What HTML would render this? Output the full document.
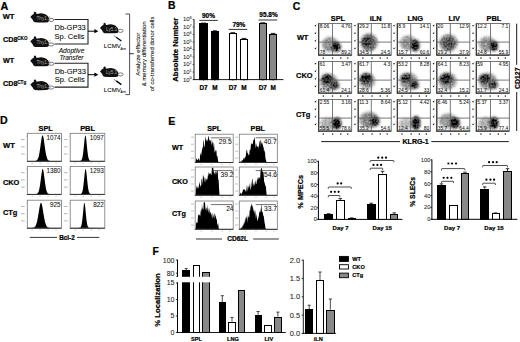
<!DOCTYPE html>
<html><head><meta charset="utf-8"><style>
html,body{margin:0;padding:0;background:#fff;}
svg{display:block;}
text{font-family:"Liberation Sans",sans-serif;}
</style></head><body>
<svg width="520" height="342" viewBox="0 0 520 342">
<defs><filter id="bl" x="-20%" y="-20%" width="140%" height="140%"><feGaussianBlur in="SourceGraphic" stdDeviation="1.4" result="b"/><feTurbulence type="fractalNoise" baseFrequency="0.55" numOctaves="1" seed="5" result="n"/><feColorMatrix in="n" type="matrix" values="0 0 0 0 0 0 0 0 0 0 0 0 0 0 0 1.3 0 0 0 -0.2" result="na"/><feComposite in="b" in2="na" operator="arithmetic" k1="0.9" k2="0.6" k3="0" k4="0" result="c"/><feGaussianBlur in="c" stdDeviation="0.35"/></filter></defs>
<rect width="520" height="342" fill="#fff"/>
<text x="0.5" y="9.5" font-size="10.8" font-weight="bold" font-style="normal" text-anchor="start" fill="#000" stroke="#000" stroke-width="0.22" >A</text>
<path d="M30.3,17 C31.4,15.57 32.83,14.14 34.26,13.7 C35.8,13.26 37.12,14.14 38,13.81 C40.75,12.71 45.15,13.26 47.68,16.12 C49.44,18.1 49.66,20.96 48.12,22.17 C44.6,22.61 39.1,22.5 34.92,22.28 C33.6,21.95 33.05,20.85 32.72,19.86 C31.95,18.76 30.96,17.77 30.3,17 Z" fill="#111"/>
<ellipse cx="35.03" cy="13.26" rx="1.21" ry="1.54" fill="#111" transform="rotate(-20 35.03 13.26)"/>
<ellipse cx="51.22" cy="19.86" rx="2.6" ry="1.55" fill="#fff" stroke="#444" stroke-width="0.7"/>
<text x="36.46" y="19.86" font-size="4.73" font-weight="normal" font-style="normal" text-anchor="start" fill="#aaa" >Thy1.1</text>
<path d="M30.3,41.6 C31.4,40.17 32.83,38.74 34.26,38.3 C35.8,37.86 37.12,38.74 38,38.41 C40.75,37.31 45.15,37.86 47.68,40.72 C49.44,42.7 49.66,45.56 48.12,46.77 C44.6,47.21 39.1,47.1 34.92,46.88 C33.6,46.55 33.05,45.45 32.72,44.46 C31.95,43.36 30.96,42.37 30.3,41.6 Z" fill="#111"/>
<ellipse cx="35.03" cy="37.86" rx="1.21" ry="1.54" fill="#111" transform="rotate(-20 35.03 37.86)"/>
<ellipse cx="51.22" cy="44.46" rx="2.6" ry="1.55" fill="#fff" stroke="#444" stroke-width="0.7"/>
<text x="36.46" y="44.46" font-size="4.73" font-weight="normal" font-style="normal" text-anchor="start" fill="#aaa" >Thy1.2</text>
<path d="M30.3,60.9 C31.4,59.47 32.83,58.04 34.26,57.6 C35.8,57.16 37.12,58.04 38,57.71 C40.75,56.61 45.15,57.16 47.68,60.02 C49.44,62 49.66,64.86 48.12,66.07 C44.6,66.51 39.1,66.4 34.92,66.18 C33.6,65.85 33.05,64.75 32.72,63.76 C31.95,62.66 30.96,61.67 30.3,60.9 Z" fill="#111"/>
<ellipse cx="35.03" cy="57.16" rx="1.21" ry="1.54" fill="#111" transform="rotate(-20 35.03 57.16)"/>
<ellipse cx="51.22" cy="63.76" rx="2.6" ry="1.55" fill="#fff" stroke="#444" stroke-width="0.7"/>
<text x="36.46" y="63.76" font-size="4.73" font-weight="normal" font-style="normal" text-anchor="start" fill="#aaa" >Thy1.1</text>
<path d="M30.3,84.7 C31.4,83.27 32.83,81.84 34.26,81.4 C35.8,80.96 37.12,81.84 38,81.51 C40.75,80.41 45.15,80.96 47.68,83.82 C49.44,85.8 49.66,88.66 48.12,89.87 C44.6,90.31 39.1,90.2 34.92,89.98 C33.6,89.65 33.05,88.55 32.72,87.56 C31.95,86.46 30.96,85.47 30.3,84.7 Z" fill="#111"/>
<ellipse cx="35.03" cy="80.96" rx="1.21" ry="1.54" fill="#111" transform="rotate(-20 35.03 80.96)"/>
<ellipse cx="51.22" cy="87.56" rx="2.6" ry="1.55" fill="#fff" stroke="#444" stroke-width="0.7"/>
<text x="36.46" y="87.56" font-size="4.73" font-weight="normal" font-style="normal" text-anchor="start" fill="#aaa" >Thy1.2</text>
<text x="2.7" y="19.3" font-size="7.5" font-weight="bold" font-style="normal" text-anchor="start" fill="#000" stroke="#000" stroke-width="0.22" >WT</text>
<text x="3" y="42.3" font-size="7.2" font-weight="bold" font-style="normal" text-anchor="start" fill="#000" stroke="#000" stroke-width="0.22" >CD8</text>
<text x="17.3" y="39.6" font-size="4.6" font-weight="bold" font-style="normal" text-anchor="start" fill="#000" stroke="#000" stroke-width="0.16" >CKO</text>
<text x="3" y="62.8" font-size="7.2" font-weight="bold" font-style="normal" text-anchor="start" fill="#000" stroke="#000" stroke-width="0.22" >WT</text>
<text x="3" y="86.2" font-size="7.2" font-weight="bold" font-style="normal" text-anchor="start" fill="#000" stroke="#000" stroke-width="0.22" >CD8</text>
<text x="17.3" y="83.5" font-size="4.6" font-weight="bold" font-style="normal" text-anchor="start" fill="#000" stroke="#000" stroke-width="0.16" >CTg</text>
<path d="M54.5,19.5 H88 V44 H54.5" fill="none" stroke="#222" stroke-width="1.1"/>
<line x1="88" y1="31.2" x2="95.5" y2="31.2" stroke="#000" stroke-width="1"/>
<polygon points="98.4,31.2 94.4,29.1 94.4,33.3" fill="#000" stroke="none" stroke-width="0.5"/>
<path d="M54.5,63.3 H88 V87.1 H54.5" fill="none" stroke="#222" stroke-width="1.1"/>
<line x1="88" y1="74.7" x2="95.5" y2="74.7" stroke="#000" stroke-width="1"/>
<polygon points="98.4,74.7 94.4,72.6 94.4,76.8" fill="#000" stroke="none" stroke-width="0.5"/>
<text x="54.5" y="30.2" font-size="7.5" font-weight="normal" font-style="normal" text-anchor="start" fill="#000" stroke="#000" stroke-width="0.06" >Db-GP33</text>
<text x="54.5" y="39.2" font-size="7.5" font-weight="normal" font-style="normal" text-anchor="start" fill="#000" stroke="#000" stroke-width="0.06" >Sp. Cells</text>
<text x="54.7" y="73.7" font-size="7.5" font-weight="normal" font-style="normal" text-anchor="start" fill="#000" stroke="#000" stroke-width="0.06" >Db-GP33</text>
<text x="54.7" y="82.3" font-size="7.5" font-weight="normal" font-style="normal" text-anchor="start" fill="#000" stroke="#000" stroke-width="0.06" >Sp. Cells</text>
<text x="71.5" y="52.6" font-size="6.6" font-weight="normal" font-style="italic" text-anchor="middle" fill="#000" stroke="#000" stroke-width="0.06" >Adoptive</text>
<text x="71.5" y="59.8" font-size="6.6" font-weight="normal" font-style="italic" text-anchor="middle" fill="#000" stroke="#000" stroke-width="0.06" >Transfer</text>
<path d="M100,28 C101.08,26.6 102.48,25.19 103.89,24.76 C105.4,24.33 106.7,25.19 107.56,24.87 C110.26,23.79 114.58,24.33 117.06,27.14 C118.79,29.08 119.01,31.89 117.5,33.08 C114.04,33.51 108.64,33.4 104.54,33.18 C103.24,32.86 102.7,31.78 102.38,30.81 C101.62,29.73 100.65,28.76 100,28 Z" fill="#111"/>
<ellipse cx="104.64" cy="24.33" rx="1.19" ry="1.51" fill="#111" transform="rotate(-20 104.64 24.33)"/>
<ellipse cx="120.58" cy="30.81" rx="2.6" ry="1.55" fill="#fff" stroke="#444" stroke-width="0.7"/>
<text x="106.05" y="30.81" font-size="4.64" font-weight="normal" font-style="normal" text-anchor="start" fill="#aaa" >Ly5.1</text>
<line x1="113.8" y1="35.6" x2="116.2" y2="37.3" stroke="#000" stroke-width="0.5"/>
<line x1="116.2" y1="37.3" x2="121.4" y2="41" stroke="#000" stroke-width="1.3"/>
<path d="M100,71.6 C101.08,70.2 102.48,68.79 103.89,68.36 C105.4,67.93 106.7,68.79 107.56,68.47 C110.26,67.39 114.58,67.93 117.06,70.74 C118.79,72.68 119.01,75.49 117.5,76.68 C114.04,77.11 108.64,77 104.54,76.78 C103.24,76.46 102.7,75.38 102.38,74.41 C101.62,73.33 100.65,72.36 100,71.6 Z" fill="#111"/>
<ellipse cx="104.64" cy="67.93" rx="1.19" ry="1.51" fill="#111" transform="rotate(-20 104.64 67.93)"/>
<ellipse cx="120.58" cy="74.41" rx="2.6" ry="1.55" fill="#fff" stroke="#444" stroke-width="0.7"/>
<text x="106.05" y="74.41" font-size="4.64" font-weight="normal" font-style="normal" text-anchor="start" fill="#aaa" >Ly5.1</text>
<line x1="113.8" y1="79.2" x2="116.2" y2="80.9" stroke="#000" stroke-width="0.5"/>
<line x1="116.2" y1="80.9" x2="121.4" y2="84.6" stroke="#000" stroke-width="1.3"/>
<text x="103.8" y="48.2" font-size="6.2" font-weight="normal" font-style="normal" text-anchor="start" fill="#000" stroke="#000" stroke-width="0.06" >LCMV</text>
<text x="120.6" y="49.8" font-size="3" font-weight="normal" font-style="normal" text-anchor="start" fill="#000" stroke="#000" stroke-width="0.03" >Arm</text>
<text x="103.8" y="91.8" font-size="6.2" font-weight="normal" font-style="normal" text-anchor="start" fill="#000" stroke="#000" stroke-width="0.06" >LCMV</text>
<text x="120.6" y="93.4" font-size="3" font-weight="normal" font-style="normal" text-anchor="start" fill="#000" stroke="#000" stroke-width="0.03" >Arm</text>
<path d="M125.4,14 H129.6 V94.6 H125.4" fill="none" stroke="#222" stroke-width="0.8"/>
<line x1="129.6" y1="53.7" x2="133.8" y2="53.7" stroke="#000" stroke-width="0.8"/>
<text x="0" y="0" transform="translate(138.1,54.3) rotate(-90)" font-size="6" font-weight="normal" font-style="normal" text-anchor="middle" dominant-baseline="central" stroke="#000" stroke-width="0.07">Analyze effector</text>
<text x="0" y="0" transform="translate(144.2,53.9) rotate(-90)" font-size="6" font-weight="normal" font-style="normal" text-anchor="middle" dominant-baseline="central" stroke="#000" stroke-width="0.07">&amp; memory differentiation</text>
<text x="0" y="0" transform="translate(151.5,53.9) rotate(-90)" font-size="6" font-weight="normal" font-style="normal" text-anchor="middle" dominant-baseline="central" stroke="#000" stroke-width="0.07">of co-transferred donor cells</text>
<text x="168" y="9.3" font-size="10.4" font-weight="bold" font-style="normal" text-anchor="start" fill="#000" stroke="#000" stroke-width="0.22" >B</text>
<text x="0" y="0" transform="translate(175.3,49.8) rotate(-90)" font-size="7.7" font-weight="bold" font-style="normal" text-anchor="middle" dominant-baseline="central" stroke="#000" stroke-width="0.22">Absolute Number</text>
<line x1="194" y1="19.2" x2="194" y2="80" stroke="#000" stroke-width="0.9"/>
<line x1="193.6" y1="79.6" x2="283.4" y2="79.6" stroke="#000" stroke-width="0.9"/>
<line x1="192.6" y1="79.6" x2="194" y2="79.6" stroke="#000" stroke-width="0.6"/>
<text x="189.6" y="81.5" font-size="6" font-weight="normal" font-style="normal" text-anchor="end" fill="#222" stroke="#222" stroke-width="0.06" >10</text>
<text x="189.6" y="79.3" font-size="3.8" font-weight="normal" font-style="normal" text-anchor="start" fill="#222" stroke="#222" stroke-width="0.04" >0</text>
<line x1="192.6" y1="72.07" x2="194" y2="72.07" stroke="#000" stroke-width="0.6"/>
<text x="189.6" y="73.97" font-size="6" font-weight="normal" font-style="normal" text-anchor="end" fill="#222" stroke="#222" stroke-width="0.06" >10</text>
<text x="189.6" y="71.77" font-size="3.8" font-weight="normal" font-style="normal" text-anchor="start" fill="#222" stroke="#222" stroke-width="0.04" >1</text>
<line x1="192.6" y1="64.55" x2="194" y2="64.55" stroke="#000" stroke-width="0.6"/>
<text x="189.6" y="66.45" font-size="6" font-weight="normal" font-style="normal" text-anchor="end" fill="#222" stroke="#222" stroke-width="0.06" >10</text>
<text x="189.6" y="64.25" font-size="3.8" font-weight="normal" font-style="normal" text-anchor="start" fill="#222" stroke="#222" stroke-width="0.04" >2</text>
<line x1="192.6" y1="57.02" x2="194" y2="57.02" stroke="#000" stroke-width="0.6"/>
<text x="189.6" y="58.92" font-size="6" font-weight="normal" font-style="normal" text-anchor="end" fill="#222" stroke="#222" stroke-width="0.06" >10</text>
<text x="189.6" y="56.72" font-size="3.8" font-weight="normal" font-style="normal" text-anchor="start" fill="#222" stroke="#222" stroke-width="0.04" >3</text>
<line x1="192.6" y1="49.5" x2="194" y2="49.5" stroke="#000" stroke-width="0.6"/>
<text x="189.6" y="51.4" font-size="6" font-weight="normal" font-style="normal" text-anchor="end" fill="#222" stroke="#222" stroke-width="0.06" >10</text>
<text x="189.6" y="49.2" font-size="3.8" font-weight="normal" font-style="normal" text-anchor="start" fill="#222" stroke="#222" stroke-width="0.04" >4</text>
<line x1="192.6" y1="41.97" x2="194" y2="41.97" stroke="#000" stroke-width="0.6"/>
<text x="189.6" y="43.87" font-size="6" font-weight="normal" font-style="normal" text-anchor="end" fill="#222" stroke="#222" stroke-width="0.06" >10</text>
<text x="189.6" y="41.67" font-size="3.8" font-weight="normal" font-style="normal" text-anchor="start" fill="#222" stroke="#222" stroke-width="0.04" >5</text>
<line x1="192.6" y1="34.45" x2="194" y2="34.45" stroke="#000" stroke-width="0.6"/>
<text x="189.6" y="36.35" font-size="6" font-weight="normal" font-style="normal" text-anchor="end" fill="#222" stroke="#222" stroke-width="0.06" >10</text>
<text x="189.6" y="34.15" font-size="3.8" font-weight="normal" font-style="normal" text-anchor="start" fill="#222" stroke="#222" stroke-width="0.04" >6</text>
<line x1="192.6" y1="26.92" x2="194" y2="26.92" stroke="#000" stroke-width="0.6"/>
<text x="189.6" y="28.82" font-size="6" font-weight="normal" font-style="normal" text-anchor="end" fill="#222" stroke="#222" stroke-width="0.06" >10</text>
<text x="189.6" y="26.62" font-size="3.8" font-weight="normal" font-style="normal" text-anchor="start" fill="#222" stroke="#222" stroke-width="0.04" >7</text>
<line x1="192.6" y1="19.4" x2="194" y2="19.4" stroke="#000" stroke-width="0.6"/>
<text x="189.6" y="21.3" font-size="6" font-weight="normal" font-style="normal" text-anchor="end" fill="#222" stroke="#222" stroke-width="0.06" >10</text>
<text x="189.6" y="19.1" font-size="3.8" font-weight="normal" font-style="normal" text-anchor="start" fill="#222" stroke="#222" stroke-width="0.04" >8</text>
<rect x="199.5" y="23.5" width="8" height="56.1" fill="#000" stroke="#000" stroke-width="1" />
<line x1="201.1" y1="23.1" x2="206" y2="23.1" stroke="#000" stroke-width="0.9"/>
<rect x="211.5" y="31.5" width="7" height="48.1" fill="#000" stroke="#000" stroke-width="1" />
<line x1="212.8" y1="30.8" x2="216.9" y2="30.8" stroke="#000" stroke-width="0.9"/>
<rect x="229.5" y="33.5" width="7" height="46.1" fill="#fff" stroke="#000" stroke-width="1" />
<line x1="230.5" y1="32.7" x2="235.1" y2="32.7" stroke="#000" stroke-width="0.9"/>
<rect x="240.5" y="39.5" width="7" height="40.1" fill="#fff" stroke="#000" stroke-width="1" />
<line x1="241.7" y1="38.4" x2="246.3" y2="38.4" stroke="#000" stroke-width="0.9"/>
<rect x="259.5" y="23.5" width="7" height="56.1" fill="#888" stroke="#000" stroke-width="1" />
<line x1="260.3" y1="22.8" x2="265.2" y2="22.8" stroke="#000" stroke-width="0.9"/>
<rect x="269.5" y="34.5" width="7" height="45.1" fill="#888" stroke="#000" stroke-width="1" />
<line x1="270.8" y1="33.4" x2="275.4" y2="33.4" stroke="#000" stroke-width="0.9"/>
<line x1="199.3" y1="20.4" x2="217.8" y2="20.4" stroke="#000" stroke-width="0.8"/>
<text x="208.5" y="17.5" font-size="6.5" font-weight="bold" font-style="normal" text-anchor="middle" fill="#000" stroke="#000" stroke-width="0.22" >90%</text>
<line x1="228.7" y1="29.4" x2="247.3" y2="29.4" stroke="#000" stroke-width="0.8"/>
<text x="238.9" y="27.1" font-size="6.5" font-weight="bold" font-style="normal" text-anchor="middle" fill="#000" stroke="#000" stroke-width="0.22" >79%</text>
<line x1="258.5" y1="20" x2="277.2" y2="20" stroke="#000" stroke-width="0.8"/>
<text x="268.5" y="17.1" font-size="6.5" font-weight="bold" font-style="normal" text-anchor="middle" fill="#000" stroke="#000" stroke-width="0.22" >95.8%</text>
<text x="203.5" y="89.8" font-size="6.4" font-weight="bold" font-style="normal" text-anchor="middle" fill="#000" stroke="#000" stroke-width="0.22" >D7</text>
<line x1="203.5" y1="79.6" x2="203.5" y2="80.8" stroke="#000" stroke-width="0.6"/>
<text x="214.9" y="89.8" font-size="6.4" font-weight="bold" font-style="normal" text-anchor="middle" fill="#000" stroke="#000" stroke-width="0.22" >M</text>
<line x1="214.9" y1="79.6" x2="214.9" y2="80.8" stroke="#000" stroke-width="0.6"/>
<text x="232.8" y="89.8" font-size="6.4" font-weight="bold" font-style="normal" text-anchor="middle" fill="#000" stroke="#000" stroke-width="0.22" >D7</text>
<line x1="232.8" y1="79.6" x2="232.8" y2="80.8" stroke="#000" stroke-width="0.6"/>
<text x="244" y="89.8" font-size="6.4" font-weight="bold" font-style="normal" text-anchor="middle" fill="#000" stroke="#000" stroke-width="0.22" >M</text>
<line x1="244" y1="79.6" x2="244" y2="80.8" stroke="#000" stroke-width="0.6"/>
<text x="262.8" y="89.8" font-size="6.4" font-weight="bold" font-style="normal" text-anchor="middle" fill="#000" stroke="#000" stroke-width="0.22" >D7</text>
<line x1="262.8" y1="79.6" x2="262.8" y2="80.8" stroke="#000" stroke-width="0.6"/>
<text x="273.1" y="89.8" font-size="6.4" font-weight="bold" font-style="normal" text-anchor="middle" fill="#000" stroke="#000" stroke-width="0.22" >M</text>
<line x1="273.1" y1="79.6" x2="273.1" y2="80.8" stroke="#000" stroke-width="0.6"/>
<text x="292.8" y="9.7" font-size="10.4" font-weight="bold" font-style="normal" text-anchor="start" fill="#000" stroke="#000" stroke-width="0.22" >C</text>
<text x="337.9" y="21.2" font-size="7.4" font-weight="bold" font-style="normal" text-anchor="middle" fill="#000" stroke="#000" stroke-width="0.22" >SPL</text>
<text x="375.7" y="21.2" font-size="7.4" font-weight="bold" font-style="normal" text-anchor="middle" fill="#000" stroke="#000" stroke-width="0.22" >iLN</text>
<text x="415.2" y="21.2" font-size="7.4" font-weight="bold" font-style="normal" text-anchor="middle" fill="#000" stroke="#000" stroke-width="0.22" >LNG</text>
<text x="454.2" y="21.2" font-size="7.4" font-weight="bold" font-style="normal" text-anchor="middle" fill="#000" stroke="#000" stroke-width="0.22" >LIV</text>
<text x="494" y="21.2" font-size="7.4" font-weight="bold" font-style="normal" text-anchor="middle" fill="#000" stroke="#000" stroke-width="0.22" >PBL</text>
<text x="296.9" y="40.2" font-size="7.4" font-weight="bold" font-style="normal" text-anchor="start" fill="#000" stroke="#000" stroke-width="0.22" >WT</text>
<text x="296.1" y="78.2" font-size="7.4" font-weight="bold" font-style="normal" text-anchor="start" fill="#000" stroke="#000" stroke-width="0.22" >CKO</text>
<text x="296" y="117.4" font-size="7.4" font-weight="bold" font-style="normal" text-anchor="start" fill="#000" stroke="#000" stroke-width="0.22" >CTg</text>
<clipPath id="cp00"><rect x="318.7" y="23.5" width="33" height="31.6"/></clipPath>
<g clip-path="url(#cp00)" filter="url(#bl)">
<ellipse cx="330" cy="44.5" rx="8" ry="7.5" fill="#000" fill-opacity="0.42"/>
<ellipse cx="336.5" cy="47" rx="4.2" ry="5" fill="#000" fill-opacity="0.95"/>
</g>
<rect x="318.7" y="23.5" width="33" height="31.6" fill="none" stroke="#555" stroke-width="0.8" />
<line x1="318.7" y1="23.5" x2="318.7" y2="55.5" stroke="#333" stroke-width="1.1"/>
<line x1="318.3" y1="55.1" x2="351.7" y2="55.1" stroke="#333" stroke-width="1.1"/>
<line x1="332.5" y1="23.5" x2="332.5" y2="55.1" stroke="#555" stroke-width="0.8"/>
<line x1="318.7" y1="42.1" x2="351.7" y2="42.1" stroke="#555" stroke-width="0.8"/>
<rect x="314.8" y="25" width="1.3" height="1.3" fill="#222" stroke="none" stroke-width="0.8" />
<rect x="316.3" y="24.2" width="0.5" height="0.6" fill="#777" stroke="none" stroke-width="0.8" />
<rect x="314.8" y="32.6" width="1.3" height="1.3" fill="#222" stroke="none" stroke-width="0.8" />
<rect x="316.3" y="31.8" width="0.5" height="0.6" fill="#777" stroke="none" stroke-width="0.8" />
<rect x="314.8" y="40.2" width="1.3" height="1.3" fill="#222" stroke="none" stroke-width="0.8" />
<rect x="316.3" y="39.4" width="0.5" height="0.6" fill="#777" stroke="none" stroke-width="0.8" />
<rect x="314.8" y="47.8" width="1.3" height="1.3" fill="#222" stroke="none" stroke-width="0.8" />
<rect x="316.3" y="47" width="0.5" height="0.6" fill="#777" stroke="none" stroke-width="0.8" />
<rect x="322.7" y="57.4" width="1.3" height="1.3" fill="#222" stroke="none" stroke-width="0.8" />
<rect x="331.9" y="57.4" width="1.3" height="1.3" fill="#222" stroke="none" stroke-width="0.8" />
<rect x="340.1" y="57.4" width="1.3" height="1.3" fill="#222" stroke="none" stroke-width="0.8" />
<rect x="347.1" y="57.4" width="1.3" height="1.3" fill="#222" stroke="none" stroke-width="0.8" />
<text x="319.7" y="28.3" font-size="4.9" font-weight="normal" font-style="normal" text-anchor="start" fill="#111" stroke="#111" stroke-width="0.05" >8.06</text>
<text x="350.7" y="28.3" font-size="4.9" font-weight="normal" font-style="normal" text-anchor="end" fill="#111" stroke="#111" stroke-width="0.05" >4.76</text>
<text x="319.7" y="54.2" font-size="4.9" font-weight="normal" font-style="normal" text-anchor="start" fill="#111" stroke="#111" stroke-width="0.05" >78</text>
<text x="350.7" y="54.2" font-size="4.9" font-weight="normal" font-style="normal" text-anchor="end" fill="#111" stroke="#111" stroke-width="0.05" >89.2</text>
<clipPath id="cp01"><rect x="358.2" y="23.5" width="33" height="31.6"/></clipPath>
<g clip-path="url(#cp01)" filter="url(#bl)">
<ellipse cx="369" cy="42.5" rx="8.5" ry="9" fill="#000" fill-opacity="0.55"/>
<ellipse cx="367" cy="41.5" rx="5" ry="5" fill="#000" fill-opacity="0.55"/>
</g>
<rect x="358.2" y="23.5" width="33" height="31.6" fill="none" stroke="#555" stroke-width="0.8" />
<line x1="358.2" y1="23.5" x2="358.2" y2="55.5" stroke="#333" stroke-width="1.1"/>
<line x1="357.8" y1="55.1" x2="391.2" y2="55.1" stroke="#333" stroke-width="1.1"/>
<line x1="371.3" y1="23.5" x2="371.3" y2="55.1" stroke="#555" stroke-width="0.8"/>
<line x1="358.2" y1="42.1" x2="391.2" y2="42.1" stroke="#555" stroke-width="0.8"/>
<rect x="354.3" y="25" width="1.3" height="1.3" fill="#222" stroke="none" stroke-width="0.8" />
<rect x="355.8" y="24.2" width="0.5" height="0.6" fill="#777" stroke="none" stroke-width="0.8" />
<rect x="354.3" y="32.6" width="1.3" height="1.3" fill="#222" stroke="none" stroke-width="0.8" />
<rect x="355.8" y="31.8" width="0.5" height="0.6" fill="#777" stroke="none" stroke-width="0.8" />
<rect x="354.3" y="40.2" width="1.3" height="1.3" fill="#222" stroke="none" stroke-width="0.8" />
<rect x="355.8" y="39.4" width="0.5" height="0.6" fill="#777" stroke="none" stroke-width="0.8" />
<rect x="354.3" y="47.8" width="1.3" height="1.3" fill="#222" stroke="none" stroke-width="0.8" />
<rect x="355.8" y="47" width="0.5" height="0.6" fill="#777" stroke="none" stroke-width="0.8" />
<rect x="362.2" y="57.4" width="1.3" height="1.3" fill="#222" stroke="none" stroke-width="0.8" />
<rect x="371.4" y="57.4" width="1.3" height="1.3" fill="#222" stroke="none" stroke-width="0.8" />
<rect x="379.6" y="57.4" width="1.3" height="1.3" fill="#222" stroke="none" stroke-width="0.8" />
<rect x="386.6" y="57.4" width="1.3" height="1.3" fill="#222" stroke="none" stroke-width="0.8" />
<text x="359.2" y="28.3" font-size="4.9" font-weight="normal" font-style="normal" text-anchor="start" fill="#111" stroke="#111" stroke-width="0.05" >29.2</text>
<text x="390.2" y="28.3" font-size="4.9" font-weight="normal" font-style="normal" text-anchor="end" fill="#111" stroke="#111" stroke-width="0.05" >11.8</text>
<text x="359.2" y="54.2" font-size="4.9" font-weight="normal" font-style="normal" text-anchor="start" fill="#111" stroke="#111" stroke-width="0.05" >34.5</text>
<text x="390.2" y="54.2" font-size="4.9" font-weight="normal" font-style="normal" text-anchor="end" fill="#111" stroke="#111" stroke-width="0.05" >24.5</text>
<clipPath id="cp02"><rect x="397.3" y="23.5" width="33" height="31.6"/></clipPath>
<g clip-path="url(#cp02)" filter="url(#bl)">
<ellipse cx="408" cy="43" rx="8" ry="7.5" fill="#000" fill-opacity="0.4"/>
<ellipse cx="415.4" cy="45.5" rx="4" ry="6" fill="#000" fill-opacity="0.95"/>
</g>
<rect x="397.3" y="23.5" width="33" height="31.6" fill="none" stroke="#555" stroke-width="0.8" />
<line x1="397.3" y1="23.5" x2="397.3" y2="55.5" stroke="#333" stroke-width="1.1"/>
<line x1="396.9" y1="55.1" x2="430.3" y2="55.1" stroke="#333" stroke-width="1.1"/>
<line x1="410.7" y1="23.5" x2="410.7" y2="55.1" stroke="#555" stroke-width="0.8"/>
<line x1="397.3" y1="42.1" x2="430.3" y2="42.1" stroke="#555" stroke-width="0.8"/>
<rect x="393.4" y="25" width="1.3" height="1.3" fill="#222" stroke="none" stroke-width="0.8" />
<rect x="394.9" y="24.2" width="0.5" height="0.6" fill="#777" stroke="none" stroke-width="0.8" />
<rect x="393.4" y="32.6" width="1.3" height="1.3" fill="#222" stroke="none" stroke-width="0.8" />
<rect x="394.9" y="31.8" width="0.5" height="0.6" fill="#777" stroke="none" stroke-width="0.8" />
<rect x="393.4" y="40.2" width="1.3" height="1.3" fill="#222" stroke="none" stroke-width="0.8" />
<rect x="394.9" y="39.4" width="0.5" height="0.6" fill="#777" stroke="none" stroke-width="0.8" />
<rect x="393.4" y="47.8" width="1.3" height="1.3" fill="#222" stroke="none" stroke-width="0.8" />
<rect x="394.9" y="47" width="0.5" height="0.6" fill="#777" stroke="none" stroke-width="0.8" />
<rect x="401.3" y="57.4" width="1.3" height="1.3" fill="#222" stroke="none" stroke-width="0.8" />
<rect x="410.5" y="57.4" width="1.3" height="1.3" fill="#222" stroke="none" stroke-width="0.8" />
<rect x="418.7" y="57.4" width="1.3" height="1.3" fill="#222" stroke="none" stroke-width="0.8" />
<rect x="425.7" y="57.4" width="1.3" height="1.3" fill="#222" stroke="none" stroke-width="0.8" />
<text x="398.3" y="28.3" font-size="4.9" font-weight="normal" font-style="normal" text-anchor="start" fill="#111" stroke="#111" stroke-width="0.05" >8.9</text>
<text x="429.3" y="28.3" font-size="4.9" font-weight="normal" font-style="normal" text-anchor="end" fill="#111" stroke="#111" stroke-width="0.05" >14.1</text>
<text x="398.3" y="54.2" font-size="4.9" font-weight="normal" font-style="normal" text-anchor="start" fill="#111" stroke="#111" stroke-width="0.05" >15.7</text>
<text x="429.3" y="54.2" font-size="4.9" font-weight="normal" font-style="normal" text-anchor="end" fill="#111" stroke="#111" stroke-width="0.05" >60.6</text>
<clipPath id="cp03"><rect x="436.8" y="23.5" width="33" height="31.6"/></clipPath>
<g clip-path="url(#cp03)" filter="url(#bl)">
<ellipse cx="448.5" cy="43" rx="9" ry="8.5" fill="#000" fill-opacity="0.55"/>
<ellipse cx="449" cy="44" rx="5" ry="5" fill="#000" fill-opacity="0.35"/>
</g>
<rect x="436.8" y="23.5" width="33" height="31.6" fill="none" stroke="#555" stroke-width="0.8" />
<line x1="436.8" y1="23.5" x2="436.8" y2="55.5" stroke="#333" stroke-width="1.1"/>
<line x1="436.4" y1="55.1" x2="469.8" y2="55.1" stroke="#333" stroke-width="1.1"/>
<line x1="450.3" y1="23.5" x2="450.3" y2="55.1" stroke="#555" stroke-width="0.8"/>
<line x1="436.8" y1="42.1" x2="469.8" y2="42.1" stroke="#555" stroke-width="0.8"/>
<rect x="432.9" y="25" width="1.3" height="1.3" fill="#222" stroke="none" stroke-width="0.8" />
<rect x="434.4" y="24.2" width="0.5" height="0.6" fill="#777" stroke="none" stroke-width="0.8" />
<rect x="432.9" y="32.6" width="1.3" height="1.3" fill="#222" stroke="none" stroke-width="0.8" />
<rect x="434.4" y="31.8" width="0.5" height="0.6" fill="#777" stroke="none" stroke-width="0.8" />
<rect x="432.9" y="40.2" width="1.3" height="1.3" fill="#222" stroke="none" stroke-width="0.8" />
<rect x="434.4" y="39.4" width="0.5" height="0.6" fill="#777" stroke="none" stroke-width="0.8" />
<rect x="432.9" y="47.8" width="1.3" height="1.3" fill="#222" stroke="none" stroke-width="0.8" />
<rect x="434.4" y="47" width="0.5" height="0.6" fill="#777" stroke="none" stroke-width="0.8" />
<rect x="440.8" y="57.4" width="1.3" height="1.3" fill="#222" stroke="none" stroke-width="0.8" />
<rect x="450" y="57.4" width="1.3" height="1.3" fill="#222" stroke="none" stroke-width="0.8" />
<rect x="458.2" y="57.4" width="1.3" height="1.3" fill="#222" stroke="none" stroke-width="0.8" />
<rect x="465.2" y="57.4" width="1.3" height="1.3" fill="#222" stroke="none" stroke-width="0.8" />
<text x="437.8" y="28.3" font-size="4.9" font-weight="normal" font-style="normal" text-anchor="start" fill="#111" stroke="#111" stroke-width="0.05" >20</text>
<text x="468.8" y="28.3" font-size="4.9" font-weight="normal" font-style="normal" text-anchor="end" fill="#111" stroke="#111" stroke-width="0.05" >12.9</text>
<text x="437.8" y="54.2" font-size="4.9" font-weight="normal" font-style="normal" text-anchor="start" fill="#111" stroke="#111" stroke-width="0.05" >29.2</text>
<text x="468.8" y="54.2" font-size="4.9" font-weight="normal" font-style="normal" text-anchor="end" fill="#111" stroke="#111" stroke-width="0.05" >37.9</text>
<clipPath id="cp04"><rect x="476.3" y="23.5" width="33" height="31.6"/></clipPath>
<g clip-path="url(#cp04)" filter="url(#bl)">
<ellipse cx="487" cy="44" rx="8" ry="7.5" fill="#000" fill-opacity="0.4"/>
<ellipse cx="494" cy="46" rx="4" ry="5" fill="#000" fill-opacity="0.95"/>
</g>
<rect x="476.3" y="23.5" width="33" height="31.6" fill="none" stroke="#555" stroke-width="0.8" />
<line x1="476.3" y1="23.5" x2="476.3" y2="55.5" stroke="#333" stroke-width="1.1"/>
<line x1="475.9" y1="55.1" x2="509.3" y2="55.1" stroke="#333" stroke-width="1.1"/>
<line x1="490.5" y1="23.5" x2="490.5" y2="55.1" stroke="#555" stroke-width="0.8"/>
<line x1="476.3" y1="42.1" x2="509.3" y2="42.1" stroke="#555" stroke-width="0.8"/>
<rect x="472.4" y="25" width="1.3" height="1.3" fill="#222" stroke="none" stroke-width="0.8" />
<rect x="473.9" y="24.2" width="0.5" height="0.6" fill="#777" stroke="none" stroke-width="0.8" />
<rect x="472.4" y="32.6" width="1.3" height="1.3" fill="#222" stroke="none" stroke-width="0.8" />
<rect x="473.9" y="31.8" width="0.5" height="0.6" fill="#777" stroke="none" stroke-width="0.8" />
<rect x="472.4" y="40.2" width="1.3" height="1.3" fill="#222" stroke="none" stroke-width="0.8" />
<rect x="473.9" y="39.4" width="0.5" height="0.6" fill="#777" stroke="none" stroke-width="0.8" />
<rect x="472.4" y="47.8" width="1.3" height="1.3" fill="#222" stroke="none" stroke-width="0.8" />
<rect x="473.9" y="47" width="0.5" height="0.6" fill="#777" stroke="none" stroke-width="0.8" />
<rect x="480.3" y="57.4" width="1.3" height="1.3" fill="#222" stroke="none" stroke-width="0.8" />
<rect x="489.5" y="57.4" width="1.3" height="1.3" fill="#222" stroke="none" stroke-width="0.8" />
<rect x="497.7" y="57.4" width="1.3" height="1.3" fill="#222" stroke="none" stroke-width="0.8" />
<rect x="504.7" y="57.4" width="1.3" height="1.3" fill="#222" stroke="none" stroke-width="0.8" />
<text x="477.3" y="28.3" font-size="4.9" font-weight="normal" font-style="normal" text-anchor="start" fill="#111" stroke="#111" stroke-width="0.05" >12.2</text>
<text x="508.3" y="28.3" font-size="4.9" font-weight="normal" font-style="normal" text-anchor="end" fill="#111" stroke="#111" stroke-width="0.05" >7.1</text>
<text x="477.3" y="54.2" font-size="4.9" font-weight="normal" font-style="normal" text-anchor="start" fill="#111" stroke="#111" stroke-width="0.05" >24.8</text>
<text x="508.3" y="54.2" font-size="4.9" font-weight="normal" font-style="normal" text-anchor="end" fill="#111" stroke="#111" stroke-width="0.05" >55.9</text>
<clipPath id="cp10"><rect x="318.7" y="61.5" width="33" height="31.6"/></clipPath>
<g clip-path="url(#cp10)" filter="url(#bl)">
<ellipse cx="329" cy="82.5" rx="9" ry="8.5" fill="#000" fill-opacity="0.42"/>
<ellipse cx="327" cy="79" rx="5.5" ry="5" fill="#000" fill-opacity="0.85"/>
<ellipse cx="335" cy="85.5" rx="4.5" ry="4" fill="#000" fill-opacity="0.7"/>
</g>
<rect x="318.7" y="61.5" width="33" height="31.6" fill="none" stroke="#555" stroke-width="0.8" />
<line x1="318.7" y1="61.5" x2="318.7" y2="93.5" stroke="#333" stroke-width="1.1"/>
<line x1="318.3" y1="93.1" x2="351.7" y2="93.1" stroke="#333" stroke-width="1.1"/>
<line x1="332.5" y1="61.5" x2="332.5" y2="93.1" stroke="#555" stroke-width="0.8"/>
<line x1="318.7" y1="80.1" x2="351.7" y2="80.1" stroke="#555" stroke-width="0.8"/>
<rect x="314.8" y="63" width="1.3" height="1.3" fill="#222" stroke="none" stroke-width="0.8" />
<rect x="316.3" y="62.2" width="0.5" height="0.6" fill="#777" stroke="none" stroke-width="0.8" />
<rect x="314.8" y="70.6" width="1.3" height="1.3" fill="#222" stroke="none" stroke-width="0.8" />
<rect x="316.3" y="69.8" width="0.5" height="0.6" fill="#777" stroke="none" stroke-width="0.8" />
<rect x="314.8" y="78.2" width="1.3" height="1.3" fill="#222" stroke="none" stroke-width="0.8" />
<rect x="316.3" y="77.4" width="0.5" height="0.6" fill="#777" stroke="none" stroke-width="0.8" />
<rect x="314.8" y="85.8" width="1.3" height="1.3" fill="#222" stroke="none" stroke-width="0.8" />
<rect x="316.3" y="85" width="0.5" height="0.6" fill="#777" stroke="none" stroke-width="0.8" />
<rect x="322.7" y="95.4" width="1.3" height="1.3" fill="#222" stroke="none" stroke-width="0.8" />
<rect x="331.9" y="95.4" width="1.3" height="1.3" fill="#222" stroke="none" stroke-width="0.8" />
<rect x="340.1" y="95.4" width="1.3" height="1.3" fill="#222" stroke="none" stroke-width="0.8" />
<rect x="347.1" y="95.4" width="1.3" height="1.3" fill="#222" stroke="none" stroke-width="0.8" />
<text x="319.7" y="66.3" font-size="4.9" font-weight="normal" font-style="normal" text-anchor="start" fill="#111" stroke="#111" stroke-width="0.05" >61</text>
<text x="350.7" y="66.3" font-size="4.9" font-weight="normal" font-style="normal" text-anchor="end" fill="#111" stroke="#111" stroke-width="0.05" >3.47</text>
<text x="319.7" y="92.2" font-size="4.9" font-weight="normal" font-style="normal" text-anchor="start" fill="#111" stroke="#111" stroke-width="0.05" >61.4</text>
<text x="350.7" y="92.2" font-size="4.9" font-weight="normal" font-style="normal" text-anchor="end" fill="#111" stroke="#111" stroke-width="0.05" >24.1</text>
<clipPath id="cp11"><rect x="358.2" y="61.5" width="33" height="31.6"/></clipPath>
<g clip-path="url(#cp11)" filter="url(#bl)">
<ellipse cx="367" cy="81" rx="8" ry="8" fill="#000" fill-opacity="0.4"/>
<ellipse cx="366" cy="78.5" rx="6" ry="5" fill="#000" fill-opacity="0.9"/>
</g>
<rect x="358.2" y="61.5" width="33" height="31.6" fill="none" stroke="#555" stroke-width="0.8" />
<line x1="358.2" y1="61.5" x2="358.2" y2="93.5" stroke="#333" stroke-width="1.1"/>
<line x1="357.8" y1="93.1" x2="391.2" y2="93.1" stroke="#333" stroke-width="1.1"/>
<line x1="371.3" y1="61.5" x2="371.3" y2="93.1" stroke="#555" stroke-width="0.8"/>
<line x1="358.2" y1="80.1" x2="391.2" y2="80.1" stroke="#555" stroke-width="0.8"/>
<rect x="354.3" y="63" width="1.3" height="1.3" fill="#222" stroke="none" stroke-width="0.8" />
<rect x="355.8" y="62.2" width="0.5" height="0.6" fill="#777" stroke="none" stroke-width="0.8" />
<rect x="354.3" y="70.6" width="1.3" height="1.3" fill="#222" stroke="none" stroke-width="0.8" />
<rect x="355.8" y="69.8" width="0.5" height="0.6" fill="#777" stroke="none" stroke-width="0.8" />
<rect x="354.3" y="78.2" width="1.3" height="1.3" fill="#222" stroke="none" stroke-width="0.8" />
<rect x="355.8" y="77.4" width="0.5" height="0.6" fill="#777" stroke="none" stroke-width="0.8" />
<rect x="354.3" y="85.8" width="1.3" height="1.3" fill="#222" stroke="none" stroke-width="0.8" />
<rect x="355.8" y="85" width="0.5" height="0.6" fill="#777" stroke="none" stroke-width="0.8" />
<rect x="362.2" y="95.4" width="1.3" height="1.3" fill="#222" stroke="none" stroke-width="0.8" />
<rect x="371.4" y="95.4" width="1.3" height="1.3" fill="#222" stroke="none" stroke-width="0.8" />
<rect x="379.6" y="95.4" width="1.3" height="1.3" fill="#222" stroke="none" stroke-width="0.8" />
<rect x="386.6" y="95.4" width="1.3" height="1.3" fill="#222" stroke="none" stroke-width="0.8" />
<text x="359.2" y="66.3" font-size="4.9" font-weight="normal" font-style="normal" text-anchor="start" fill="#111" stroke="#111" stroke-width="0.05" >61.7</text>
<text x="390.2" y="66.3" font-size="4.9" font-weight="normal" font-style="normal" text-anchor="end" fill="#111" stroke="#111" stroke-width="0.05" >4.3</text>
<text x="359.2" y="92.2" font-size="4.9" font-weight="normal" font-style="normal" text-anchor="start" fill="#111" stroke="#111" stroke-width="0.05" >28.6</text>
<text x="390.2" y="92.2" font-size="4.9" font-weight="normal" font-style="normal" text-anchor="end" fill="#111" stroke="#111" stroke-width="0.05" >5.36</text>
<clipPath id="cp12"><rect x="397.3" y="61.5" width="33" height="31.6"/></clipPath>
<g clip-path="url(#cp12)" filter="url(#bl)">
<ellipse cx="409" cy="81.5" rx="9" ry="8.5" fill="#000" fill-opacity="0.4"/>
<ellipse cx="406" cy="78" rx="5.5" ry="4.5" fill="#000" fill-opacity="0.75"/>
<ellipse cx="414.5" cy="85" rx="4.5" ry="4" fill="#000" fill-opacity="0.75"/>
</g>
<rect x="397.3" y="61.5" width="33" height="31.6" fill="none" stroke="#555" stroke-width="0.8" />
<line x1="397.3" y1="61.5" x2="397.3" y2="93.5" stroke="#333" stroke-width="1.1"/>
<line x1="396.9" y1="93.1" x2="430.3" y2="93.1" stroke="#333" stroke-width="1.1"/>
<line x1="410.7" y1="61.5" x2="410.7" y2="93.1" stroke="#555" stroke-width="0.8"/>
<line x1="397.3" y1="80.1" x2="430.3" y2="80.1" stroke="#555" stroke-width="0.8"/>
<rect x="393.4" y="63" width="1.3" height="1.3" fill="#222" stroke="none" stroke-width="0.8" />
<rect x="394.9" y="62.2" width="0.5" height="0.6" fill="#777" stroke="none" stroke-width="0.8" />
<rect x="393.4" y="70.6" width="1.3" height="1.3" fill="#222" stroke="none" stroke-width="0.8" />
<rect x="394.9" y="69.8" width="0.5" height="0.6" fill="#777" stroke="none" stroke-width="0.8" />
<rect x="393.4" y="78.2" width="1.3" height="1.3" fill="#222" stroke="none" stroke-width="0.8" />
<rect x="394.9" y="77.4" width="0.5" height="0.6" fill="#777" stroke="none" stroke-width="0.8" />
<rect x="393.4" y="85.8" width="1.3" height="1.3" fill="#222" stroke="none" stroke-width="0.8" />
<rect x="394.9" y="85" width="0.5" height="0.6" fill="#777" stroke="none" stroke-width="0.8" />
<rect x="401.3" y="95.4" width="1.3" height="1.3" fill="#222" stroke="none" stroke-width="0.8" />
<rect x="410.5" y="95.4" width="1.3" height="1.3" fill="#222" stroke="none" stroke-width="0.8" />
<rect x="418.7" y="95.4" width="1.3" height="1.3" fill="#222" stroke="none" stroke-width="0.8" />
<rect x="425.7" y="95.4" width="1.3" height="1.3" fill="#222" stroke="none" stroke-width="0.8" />
<text x="398.3" y="66.3" font-size="4.9" font-weight="normal" font-style="normal" text-anchor="start" fill="#111" stroke="#111" stroke-width="0.05" >53.2</text>
<text x="429.3" y="66.3" font-size="4.9" font-weight="normal" font-style="normal" text-anchor="end" fill="#111" stroke="#111" stroke-width="0.05" >8.28</text>
<text x="398.3" y="92.2" font-size="4.9" font-weight="normal" font-style="normal" text-anchor="start" fill="#111" stroke="#111" stroke-width="0.05" >24.5</text>
<text x="429.3" y="92.2" font-size="4.9" font-weight="normal" font-style="normal" text-anchor="end" fill="#111" stroke="#111" stroke-width="0.05" >33</text>
<clipPath id="cp13"><rect x="436.8" y="61.5" width="33" height="31.6"/></clipPath>
<g clip-path="url(#cp13)" filter="url(#bl)">
<ellipse cx="447.5" cy="81" rx="9" ry="8.5" fill="#000" fill-opacity="0.42"/>
<ellipse cx="446" cy="78.5" rx="6" ry="5" fill="#000" fill-opacity="0.85"/>
</g>
<rect x="436.8" y="61.5" width="33" height="31.6" fill="none" stroke="#555" stroke-width="0.8" />
<line x1="436.8" y1="61.5" x2="436.8" y2="93.5" stroke="#333" stroke-width="1.1"/>
<line x1="436.4" y1="93.1" x2="469.8" y2="93.1" stroke="#333" stroke-width="1.1"/>
<line x1="450.3" y1="61.5" x2="450.3" y2="93.1" stroke="#555" stroke-width="0.8"/>
<line x1="436.8" y1="80.1" x2="469.8" y2="80.1" stroke="#555" stroke-width="0.8"/>
<rect x="432.9" y="63" width="1.3" height="1.3" fill="#222" stroke="none" stroke-width="0.8" />
<rect x="434.4" y="62.2" width="0.5" height="0.6" fill="#777" stroke="none" stroke-width="0.8" />
<rect x="432.9" y="70.6" width="1.3" height="1.3" fill="#222" stroke="none" stroke-width="0.8" />
<rect x="434.4" y="69.8" width="0.5" height="0.6" fill="#777" stroke="none" stroke-width="0.8" />
<rect x="432.9" y="78.2" width="1.3" height="1.3" fill="#222" stroke="none" stroke-width="0.8" />
<rect x="434.4" y="77.4" width="0.5" height="0.6" fill="#777" stroke="none" stroke-width="0.8" />
<rect x="432.9" y="85.8" width="1.3" height="1.3" fill="#222" stroke="none" stroke-width="0.8" />
<rect x="434.4" y="85" width="0.5" height="0.6" fill="#777" stroke="none" stroke-width="0.8" />
<rect x="440.8" y="95.4" width="1.3" height="1.3" fill="#222" stroke="none" stroke-width="0.8" />
<rect x="450" y="95.4" width="1.3" height="1.3" fill="#222" stroke="none" stroke-width="0.8" />
<rect x="458.2" y="95.4" width="1.3" height="1.3" fill="#222" stroke="none" stroke-width="0.8" />
<rect x="465.2" y="95.4" width="1.3" height="1.3" fill="#222" stroke="none" stroke-width="0.8" />
<text x="437.8" y="66.3" font-size="4.9" font-weight="normal" font-style="normal" text-anchor="start" fill="#111" stroke="#111" stroke-width="0.05" >64.1</text>
<text x="468.8" y="66.3" font-size="4.9" font-weight="normal" font-style="normal" text-anchor="end" fill="#111" stroke="#111" stroke-width="0.05" >8.23</text>
<text x="437.8" y="92.2" font-size="4.9" font-weight="normal" font-style="normal" text-anchor="start" fill="#111" stroke="#111" stroke-width="0.05" >32.4</text>
<text x="468.8" y="92.2" font-size="4.9" font-weight="normal" font-style="normal" text-anchor="end" fill="#111" stroke="#111" stroke-width="0.05" >15.2</text>
<clipPath id="cp14"><rect x="476.3" y="61.5" width="33" height="31.6"/></clipPath>
<g clip-path="url(#cp14)" filter="url(#bl)">
<ellipse cx="488" cy="81.5" rx="9" ry="8.5" fill="#000" fill-opacity="0.42"/>
<ellipse cx="484.5" cy="78.5" rx="5.5" ry="4.5" fill="#000" fill-opacity="0.8"/>
<ellipse cx="493.5" cy="85" rx="4.5" ry="4" fill="#000" fill-opacity="0.7"/>
</g>
<rect x="476.3" y="61.5" width="33" height="31.6" fill="none" stroke="#555" stroke-width="0.8" />
<line x1="476.3" y1="61.5" x2="476.3" y2="93.5" stroke="#333" stroke-width="1.1"/>
<line x1="475.9" y1="93.1" x2="509.3" y2="93.1" stroke="#333" stroke-width="1.1"/>
<line x1="490.5" y1="61.5" x2="490.5" y2="93.1" stroke="#555" stroke-width="0.8"/>
<line x1="476.3" y1="80.1" x2="509.3" y2="80.1" stroke="#555" stroke-width="0.8"/>
<rect x="472.4" y="63" width="1.3" height="1.3" fill="#222" stroke="none" stroke-width="0.8" />
<rect x="473.9" y="62.2" width="0.5" height="0.6" fill="#777" stroke="none" stroke-width="0.8" />
<rect x="472.4" y="70.6" width="1.3" height="1.3" fill="#222" stroke="none" stroke-width="0.8" />
<rect x="473.9" y="69.8" width="0.5" height="0.6" fill="#777" stroke="none" stroke-width="0.8" />
<rect x="472.4" y="78.2" width="1.3" height="1.3" fill="#222" stroke="none" stroke-width="0.8" />
<rect x="473.9" y="77.4" width="0.5" height="0.6" fill="#777" stroke="none" stroke-width="0.8" />
<rect x="472.4" y="85.8" width="1.3" height="1.3" fill="#222" stroke="none" stroke-width="0.8" />
<rect x="473.9" y="85" width="0.5" height="0.6" fill="#777" stroke="none" stroke-width="0.8" />
<rect x="480.3" y="95.4" width="1.3" height="1.3" fill="#222" stroke="none" stroke-width="0.8" />
<rect x="489.5" y="95.4" width="1.3" height="1.3" fill="#222" stroke="none" stroke-width="0.8" />
<rect x="497.7" y="95.4" width="1.3" height="1.3" fill="#222" stroke="none" stroke-width="0.8" />
<rect x="504.7" y="95.4" width="1.3" height="1.3" fill="#222" stroke="none" stroke-width="0.8" />
<text x="477.3" y="66.3" font-size="4.9" font-weight="normal" font-style="normal" text-anchor="start" fill="#111" stroke="#111" stroke-width="0.05" >59</text>
<text x="508.3" y="66.3" font-size="4.9" font-weight="normal" font-style="normal" text-anchor="end" fill="#111" stroke="#111" stroke-width="0.05" >4.95</text>
<text x="477.3" y="92.2" font-size="4.9" font-weight="normal" font-style="normal" text-anchor="start" fill="#111" stroke="#111" stroke-width="0.05" >51.7</text>
<text x="508.3" y="92.2" font-size="4.9" font-weight="normal" font-style="normal" text-anchor="end" fill="#111" stroke="#111" stroke-width="0.05" >24.3</text>
<clipPath id="cp20"><rect x="318.7" y="99.5" width="33" height="31.6"/></clipPath>
<g clip-path="url(#cp20)" filter="url(#bl)">
<ellipse cx="328" cy="124" rx="8" ry="6.5" fill="#000" fill-opacity="0.3"/>
<ellipse cx="336.8" cy="123.5" rx="4.5" ry="6" fill="#000" fill-opacity="0.95"/>
</g>
<rect x="318.7" y="99.5" width="33" height="31.6" fill="none" stroke="#555" stroke-width="0.8" />
<line x1="318.7" y1="99.5" x2="318.7" y2="131.5" stroke="#333" stroke-width="1.1"/>
<line x1="318.3" y1="131.1" x2="351.7" y2="131.1" stroke="#333" stroke-width="1.1"/>
<line x1="332.5" y1="99.5" x2="332.5" y2="131.1" stroke="#555" stroke-width="0.8"/>
<line x1="318.7" y1="118.1" x2="351.7" y2="118.1" stroke="#555" stroke-width="0.8"/>
<rect x="314.8" y="101" width="1.3" height="1.3" fill="#222" stroke="none" stroke-width="0.8" />
<rect x="316.3" y="100.2" width="0.5" height="0.6" fill="#777" stroke="none" stroke-width="0.8" />
<rect x="314.8" y="108.6" width="1.3" height="1.3" fill="#222" stroke="none" stroke-width="0.8" />
<rect x="316.3" y="107.8" width="0.5" height="0.6" fill="#777" stroke="none" stroke-width="0.8" />
<rect x="314.8" y="116.2" width="1.3" height="1.3" fill="#222" stroke="none" stroke-width="0.8" />
<rect x="316.3" y="115.4" width="0.5" height="0.6" fill="#777" stroke="none" stroke-width="0.8" />
<rect x="314.8" y="123.8" width="1.3" height="1.3" fill="#222" stroke="none" stroke-width="0.8" />
<rect x="316.3" y="123" width="0.5" height="0.6" fill="#777" stroke="none" stroke-width="0.8" />
<rect x="322.7" y="133.4" width="1.3" height="1.3" fill="#222" stroke="none" stroke-width="0.8" />
<rect x="331.9" y="133.4" width="1.3" height="1.3" fill="#222" stroke="none" stroke-width="0.8" />
<rect x="340.1" y="133.4" width="1.3" height="1.3" fill="#222" stroke="none" stroke-width="0.8" />
<rect x="347.1" y="133.4" width="1.3" height="1.3" fill="#222" stroke="none" stroke-width="0.8" />
<text x="319.7" y="104.3" font-size="4.9" font-weight="normal" font-style="normal" text-anchor="start" fill="#111" stroke="#111" stroke-width="0.05" >2.55</text>
<text x="350.7" y="104.3" font-size="4.9" font-weight="normal" font-style="normal" text-anchor="end" fill="#111" stroke="#111" stroke-width="0.05" >3.16</text>
<text x="319.7" y="130.2" font-size="4.9" font-weight="normal" font-style="normal" text-anchor="start" fill="#111" stroke="#111" stroke-width="0.05" >55.5</text>
<text x="350.7" y="130.2" font-size="4.9" font-weight="normal" font-style="normal" text-anchor="end" fill="#111" stroke="#111" stroke-width="0.05" >78.6</text>
<clipPath id="cp21"><rect x="358.2" y="99.5" width="33" height="31.6"/></clipPath>
<g clip-path="url(#cp21)" filter="url(#bl)">
<ellipse cx="369" cy="120" rx="9.5" ry="8" fill="#000" fill-opacity="0.45"/>
<ellipse cx="375" cy="121.5" rx="4.5" ry="5" fill="#000" fill-opacity="0.8"/>
</g>
<rect x="358.2" y="99.5" width="33" height="31.6" fill="none" stroke="#555" stroke-width="0.8" />
<line x1="358.2" y1="99.5" x2="358.2" y2="131.5" stroke="#333" stroke-width="1.1"/>
<line x1="357.8" y1="131.1" x2="391.2" y2="131.1" stroke="#333" stroke-width="1.1"/>
<line x1="371.3" y1="99.5" x2="371.3" y2="131.1" stroke="#555" stroke-width="0.8"/>
<line x1="358.2" y1="118.1" x2="391.2" y2="118.1" stroke="#555" stroke-width="0.8"/>
<rect x="354.3" y="101" width="1.3" height="1.3" fill="#222" stroke="none" stroke-width="0.8" />
<rect x="355.8" y="100.2" width="0.5" height="0.6" fill="#777" stroke="none" stroke-width="0.8" />
<rect x="354.3" y="108.6" width="1.3" height="1.3" fill="#222" stroke="none" stroke-width="0.8" />
<rect x="355.8" y="107.8" width="0.5" height="0.6" fill="#777" stroke="none" stroke-width="0.8" />
<rect x="354.3" y="116.2" width="1.3" height="1.3" fill="#222" stroke="none" stroke-width="0.8" />
<rect x="355.8" y="115.4" width="0.5" height="0.6" fill="#777" stroke="none" stroke-width="0.8" />
<rect x="354.3" y="123.8" width="1.3" height="1.3" fill="#222" stroke="none" stroke-width="0.8" />
<rect x="355.8" y="123" width="0.5" height="0.6" fill="#777" stroke="none" stroke-width="0.8" />
<rect x="362.2" y="133.4" width="1.3" height="1.3" fill="#222" stroke="none" stroke-width="0.8" />
<rect x="371.4" y="133.4" width="1.3" height="1.3" fill="#222" stroke="none" stroke-width="0.8" />
<rect x="379.6" y="133.4" width="1.3" height="1.3" fill="#222" stroke="none" stroke-width="0.8" />
<rect x="386.6" y="133.4" width="1.3" height="1.3" fill="#222" stroke="none" stroke-width="0.8" />
<text x="359.2" y="104.3" font-size="4.9" font-weight="normal" font-style="normal" text-anchor="start" fill="#111" stroke="#111" stroke-width="0.05" >11.3</text>
<text x="390.2" y="104.3" font-size="4.9" font-weight="normal" font-style="normal" text-anchor="end" fill="#111" stroke="#111" stroke-width="0.05" >8.64</text>
<text x="359.2" y="130.2" font-size="4.9" font-weight="normal" font-style="normal" text-anchor="start" fill="#111" stroke="#111" stroke-width="0.05" >35.2</text>
<text x="390.2" y="130.2" font-size="4.9" font-weight="normal" font-style="normal" text-anchor="end" fill="#111" stroke="#111" stroke-width="0.05" >54.6</text>
<clipPath id="cp22"><rect x="397.3" y="99.5" width="33" height="31.6"/></clipPath>
<g clip-path="url(#cp22)" filter="url(#bl)">
<ellipse cx="406" cy="124" rx="7.5" ry="6" fill="#000" fill-opacity="0.26"/>
<ellipse cx="416" cy="123" rx="4.2" ry="7" fill="#000" fill-opacity="0.95"/>
</g>
<rect x="397.3" y="99.5" width="33" height="31.6" fill="none" stroke="#555" stroke-width="0.8" />
<line x1="397.3" y1="99.5" x2="397.3" y2="131.5" stroke="#333" stroke-width="1.1"/>
<line x1="396.9" y1="131.1" x2="430.3" y2="131.1" stroke="#333" stroke-width="1.1"/>
<line x1="410.7" y1="99.5" x2="410.7" y2="131.1" stroke="#555" stroke-width="0.8"/>
<line x1="397.3" y1="118.1" x2="430.3" y2="118.1" stroke="#555" stroke-width="0.8"/>
<rect x="393.4" y="101" width="1.3" height="1.3" fill="#222" stroke="none" stroke-width="0.8" />
<rect x="394.9" y="100.2" width="0.5" height="0.6" fill="#777" stroke="none" stroke-width="0.8" />
<rect x="393.4" y="108.6" width="1.3" height="1.3" fill="#222" stroke="none" stroke-width="0.8" />
<rect x="394.9" y="107.8" width="0.5" height="0.6" fill="#777" stroke="none" stroke-width="0.8" />
<rect x="393.4" y="116.2" width="1.3" height="1.3" fill="#222" stroke="none" stroke-width="0.8" />
<rect x="394.9" y="115.4" width="0.5" height="0.6" fill="#777" stroke="none" stroke-width="0.8" />
<rect x="393.4" y="123.8" width="1.3" height="1.3" fill="#222" stroke="none" stroke-width="0.8" />
<rect x="394.9" y="123" width="0.5" height="0.6" fill="#777" stroke="none" stroke-width="0.8" />
<rect x="401.3" y="133.4" width="1.3" height="1.3" fill="#222" stroke="none" stroke-width="0.8" />
<rect x="410.5" y="133.4" width="1.3" height="1.3" fill="#222" stroke="none" stroke-width="0.8" />
<rect x="418.7" y="133.4" width="1.3" height="1.3" fill="#222" stroke="none" stroke-width="0.8" />
<rect x="425.7" y="133.4" width="1.3" height="1.3" fill="#222" stroke="none" stroke-width="0.8" />
<text x="398.3" y="104.3" font-size="4.9" font-weight="normal" font-style="normal" text-anchor="start" fill="#111" stroke="#111" stroke-width="0.05" >5.12</text>
<text x="429.3" y="104.3" font-size="4.9" font-weight="normal" font-style="normal" text-anchor="end" fill="#111" stroke="#111" stroke-width="0.05" >4.42</text>
<text x="398.3" y="130.2" font-size="4.9" font-weight="normal" font-style="normal" text-anchor="start" fill="#111" stroke="#111" stroke-width="0.05" >12.4</text>
<text x="429.3" y="130.2" font-size="4.9" font-weight="normal" font-style="normal" text-anchor="end" fill="#111" stroke="#111" stroke-width="0.05" >80</text>
<clipPath id="cp23"><rect x="436.8" y="99.5" width="33" height="31.6"/></clipPath>
<g clip-path="url(#cp23)" filter="url(#bl)">
<ellipse cx="448" cy="121" rx="9" ry="7.5" fill="#000" fill-opacity="0.38"/>
<ellipse cx="455" cy="123" rx="4.8" ry="5.5" fill="#000" fill-opacity="0.95"/>
</g>
<rect x="436.8" y="99.5" width="33" height="31.6" fill="none" stroke="#555" stroke-width="0.8" />
<line x1="436.8" y1="99.5" x2="436.8" y2="131.5" stroke="#333" stroke-width="1.1"/>
<line x1="436.4" y1="131.1" x2="469.8" y2="131.1" stroke="#333" stroke-width="1.1"/>
<line x1="450.3" y1="99.5" x2="450.3" y2="131.1" stroke="#555" stroke-width="0.8"/>
<line x1="436.8" y1="118.1" x2="469.8" y2="118.1" stroke="#555" stroke-width="0.8"/>
<rect x="432.9" y="101" width="1.3" height="1.3" fill="#222" stroke="none" stroke-width="0.8" />
<rect x="434.4" y="100.2" width="0.5" height="0.6" fill="#777" stroke="none" stroke-width="0.8" />
<rect x="432.9" y="108.6" width="1.3" height="1.3" fill="#222" stroke="none" stroke-width="0.8" />
<rect x="434.4" y="107.8" width="0.5" height="0.6" fill="#777" stroke="none" stroke-width="0.8" />
<rect x="432.9" y="116.2" width="1.3" height="1.3" fill="#222" stroke="none" stroke-width="0.8" />
<rect x="434.4" y="115.4" width="0.5" height="0.6" fill="#777" stroke="none" stroke-width="0.8" />
<rect x="432.9" y="123.8" width="1.3" height="1.3" fill="#222" stroke="none" stroke-width="0.8" />
<rect x="434.4" y="123" width="0.5" height="0.6" fill="#777" stroke="none" stroke-width="0.8" />
<rect x="440.8" y="133.4" width="1.3" height="1.3" fill="#222" stroke="none" stroke-width="0.8" />
<rect x="450" y="133.4" width="1.3" height="1.3" fill="#222" stroke="none" stroke-width="0.8" />
<rect x="458.2" y="133.4" width="1.3" height="1.3" fill="#222" stroke="none" stroke-width="0.8" />
<rect x="465.2" y="133.4" width="1.3" height="1.3" fill="#222" stroke="none" stroke-width="0.8" />
<text x="437.8" y="104.3" font-size="4.9" font-weight="normal" font-style="normal" text-anchor="start" fill="#111" stroke="#111" stroke-width="0.05" >6.46</text>
<text x="468.8" y="104.3" font-size="4.9" font-weight="normal" font-style="normal" text-anchor="end" fill="#111" stroke="#111" stroke-width="0.05" >5.24</text>
<text x="437.8" y="130.2" font-size="4.9" font-weight="normal" font-style="normal" text-anchor="start" fill="#111" stroke="#111" stroke-width="0.05" >35.7</text>
<text x="468.8" y="130.2" font-size="4.9" font-weight="normal" font-style="normal" text-anchor="end" fill="#111" stroke="#111" stroke-width="0.05" >64.4</text>
<clipPath id="cp24"><rect x="476.3" y="99.5" width="33" height="31.6"/></clipPath>
<g clip-path="url(#cp24)" filter="url(#bl)">
<ellipse cx="486" cy="123.5" rx="8" ry="6.5" fill="#000" fill-opacity="0.3"/>
<ellipse cx="494" cy="123" rx="4.5" ry="6" fill="#000" fill-opacity="0.95"/>
</g>
<rect x="476.3" y="99.5" width="33" height="31.6" fill="none" stroke="#555" stroke-width="0.8" />
<line x1="476.3" y1="99.5" x2="476.3" y2="131.5" stroke="#333" stroke-width="1.1"/>
<line x1="475.9" y1="131.1" x2="509.3" y2="131.1" stroke="#333" stroke-width="1.1"/>
<line x1="490.5" y1="99.5" x2="490.5" y2="131.1" stroke="#555" stroke-width="0.8"/>
<line x1="476.3" y1="118.1" x2="509.3" y2="118.1" stroke="#555" stroke-width="0.8"/>
<rect x="472.4" y="101" width="1.3" height="1.3" fill="#222" stroke="none" stroke-width="0.8" />
<rect x="473.9" y="100.2" width="0.5" height="0.6" fill="#777" stroke="none" stroke-width="0.8" />
<rect x="472.4" y="108.6" width="1.3" height="1.3" fill="#222" stroke="none" stroke-width="0.8" />
<rect x="473.9" y="107.8" width="0.5" height="0.6" fill="#777" stroke="none" stroke-width="0.8" />
<rect x="472.4" y="116.2" width="1.3" height="1.3" fill="#222" stroke="none" stroke-width="0.8" />
<rect x="473.9" y="115.4" width="0.5" height="0.6" fill="#777" stroke="none" stroke-width="0.8" />
<rect x="472.4" y="123.8" width="1.3" height="1.3" fill="#222" stroke="none" stroke-width="0.8" />
<rect x="473.9" y="123" width="0.5" height="0.6" fill="#777" stroke="none" stroke-width="0.8" />
<rect x="480.3" y="133.4" width="1.3" height="1.3" fill="#222" stroke="none" stroke-width="0.8" />
<rect x="489.5" y="133.4" width="1.3" height="1.3" fill="#222" stroke="none" stroke-width="0.8" />
<rect x="497.7" y="133.4" width="1.3" height="1.3" fill="#222" stroke="none" stroke-width="0.8" />
<rect x="504.7" y="133.4" width="1.3" height="1.3" fill="#222" stroke="none" stroke-width="0.8" />
<text x="477.3" y="104.3" font-size="4.9" font-weight="normal" font-style="normal" text-anchor="start" fill="#111" stroke="#111" stroke-width="0.05" >5.37</text>
<text x="508.3" y="104.3" font-size="4.9" font-weight="normal" font-style="normal" text-anchor="end" fill="#111" stroke="#111" stroke-width="0.05" >3.37</text>
<text x="477.3" y="130.2" font-size="4.9" font-weight="normal" font-style="normal" text-anchor="start" fill="#111" stroke="#111" stroke-width="0.05" >15.9</text>
<text x="508.3" y="130.2" font-size="4.9" font-weight="normal" font-style="normal" text-anchor="end" fill="#111" stroke="#111" stroke-width="0.05" >77.4</text>
<line x1="321.2" y1="141.6" x2="400" y2="141.6" stroke="#000" stroke-width="0.9"/>
<line x1="431.3" y1="141.6" x2="508.8" y2="141.6" stroke="#000" stroke-width="0.9"/>
<text x="415.6" y="144.3" font-size="7" font-weight="bold" font-style="normal" text-anchor="middle" fill="#000" stroke="#000" stroke-width="0.22" >KLRG-1</text>
<line x1="516.7" y1="23.7" x2="516.7" y2="64.9" stroke="#000" stroke-width="0.9"/>
<line x1="516.7" y1="92.1" x2="516.7" y2="131" stroke="#000" stroke-width="0.9"/>
<text x="0" y="0" transform="translate(517,78.2) rotate(-90)" font-size="6.9" font-weight="bold" font-style="normal" text-anchor="middle" dominant-baseline="central" stroke="#000" stroke-width="0.22">CD127</text>
<line x1="318.4" y1="160.8" x2="318.4" y2="219.8" stroke="#000" stroke-width="1"/>
<line x1="318" y1="219.4" x2="402.4" y2="219.4" stroke="#000" stroke-width="1"/>
<line x1="316.9" y1="219.4" x2="318.4" y2="219.4" stroke="#000" stroke-width="0.8"/>
<text x="316.8" y="221.4" font-size="5.7" font-weight="normal" font-style="normal" text-anchor="end" fill="#222" stroke="#222" stroke-width="0.05" >0</text>
<line x1="316.9" y1="207.78" x2="318.4" y2="207.78" stroke="#000" stroke-width="0.8"/>
<text x="316.8" y="209.78" font-size="5.7" font-weight="normal" font-style="normal" text-anchor="end" fill="#222" stroke="#222" stroke-width="0.05" >20</text>
<line x1="316.9" y1="196.16" x2="318.4" y2="196.16" stroke="#000" stroke-width="0.8"/>
<text x="316.8" y="198.16" font-size="5.7" font-weight="normal" font-style="normal" text-anchor="end" fill="#222" stroke="#222" stroke-width="0.05" >40</text>
<line x1="316.9" y1="184.54" x2="318.4" y2="184.54" stroke="#000" stroke-width="0.8"/>
<text x="316.8" y="186.54" font-size="5.7" font-weight="normal" font-style="normal" text-anchor="end" fill="#222" stroke="#222" stroke-width="0.05" >60</text>
<line x1="316.9" y1="172.92" x2="318.4" y2="172.92" stroke="#000" stroke-width="0.8"/>
<text x="316.8" y="174.92" font-size="5.7" font-weight="normal" font-style="normal" text-anchor="end" fill="#222" stroke="#222" stroke-width="0.05" >80</text>
<line x1="316.9" y1="161.3" x2="318.4" y2="161.3" stroke="#000" stroke-width="0.8"/>
<text x="316.8" y="163.3" font-size="5.7" font-weight="normal" font-style="normal" text-anchor="end" fill="#222" stroke="#222" stroke-width="0.05" >100</text>
<rect x="324.5" y="214.5" width="8" height="4.9" fill="#000" stroke="#000" stroke-width="1" />
<line x1="328.7" y1="214.3" x2="328.7" y2="213.7" stroke="#000" stroke-width="0.8"/>
<line x1="326.9" y1="213.7" x2="330.5" y2="213.7" stroke="#000" stroke-width="0.8"/>
<rect x="336.5" y="200.5" width="8" height="18.9" fill="#fff" stroke="#000" stroke-width="1" />
<line x1="340.25" y1="200.4" x2="340.25" y2="198.6" stroke="#000" stroke-width="0.8"/>
<line x1="338.45" y1="198.6" x2="342.05" y2="198.6" stroke="#000" stroke-width="0.8"/>
<rect x="348.5" y="218.5" width="7" height="0.9" fill="#888" stroke="#000" stroke-width="1" />
<line x1="351.7" y1="218.2" x2="351.7" y2="217.9" stroke="#000" stroke-width="0.8"/>
<line x1="349.9" y1="217.9" x2="353.5" y2="217.9" stroke="#000" stroke-width="0.8"/>
<rect x="367.5" y="204.5" width="8" height="14.9" fill="#000" stroke="#000" stroke-width="1" />
<line x1="371.15" y1="204" x2="371.15" y2="203.2" stroke="#000" stroke-width="0.8"/>
<line x1="369.35" y1="203.2" x2="372.95" y2="203.2" stroke="#000" stroke-width="0.8"/>
<rect x="378.5" y="174.5" width="8" height="44.9" fill="#fff" stroke="#000" stroke-width="1" />
<line x1="382.6" y1="173.5" x2="382.6" y2="171.3" stroke="#000" stroke-width="0.8"/>
<line x1="380.8" y1="171.3" x2="384.4" y2="171.3" stroke="#000" stroke-width="0.8"/>
<rect x="390.5" y="214.5" width="7" height="4.9" fill="#888" stroke="#000" stroke-width="1" />
<line x1="394.2" y1="213.7" x2="394.2" y2="212.9" stroke="#000" stroke-width="0.8"/>
<line x1="392.4" y1="212.9" x2="396" y2="212.9" stroke="#000" stroke-width="0.8"/>
<circle cx="337.7" cy="183.4" r="1.1" fill="#000"/>
<circle cx="341.2" cy="183.4" r="1.1" fill="#000"/>
<path d="M328.3,188.8 V187.5 Q328.3,187 328.9,187 H350.7 Q351.3,187 351.3,187.5 V188.8" fill="none" stroke="#222" stroke-width="0.8"/>
<circle cx="331.1" cy="191.8" r="1.1" fill="#000"/>
<circle cx="334.8" cy="191.8" r="1.1" fill="#000"/>
<circle cx="338.6" cy="191.8" r="1.1" fill="#000"/>
<path d="M328.3,197.3 V196 Q328.3,195.5 328.9,195.5 H339.3 Q339.9,195.5 339.9,196 V197.3" fill="none" stroke="#222" stroke-width="0.8"/>
<circle cx="378.3" cy="157.7" r="1.1" fill="#000"/>
<circle cx="382.2" cy="157.7" r="1.1" fill="#000"/>
<circle cx="386" cy="157.7" r="1.1" fill="#000"/>
<path d="M370.2,162.3 V161 Q370.2,160.5 370.8,160.5 H393.3 Q393.9,160.5 393.9,161 V162.3" fill="none" stroke="#222" stroke-width="0.8"/>
<circle cx="373.5" cy="164.9" r="1.1" fill="#000"/>
<circle cx="377.4" cy="164.9" r="1.1" fill="#000"/>
<circle cx="381.1" cy="164.9" r="1.1" fill="#000"/>
<path d="M370.2,170 V168.7 Q370.2,168.2 370.8,168.2 H382.1 Q382.7,168.2 382.7,168.7 V170" fill="none" stroke="#222" stroke-width="0.8"/>
<text x="340.6" y="230.3" font-size="6" font-weight="bold" font-style="normal" text-anchor="middle" fill="#000" stroke="#000" stroke-width="0.2" >Day 7</text>
<text x="382.3" y="230.3" font-size="6" font-weight="bold" font-style="normal" text-anchor="middle" fill="#000" stroke="#000" stroke-width="0.2" >Day 15</text>
<text x="0" y="0" transform="translate(300.8,191.8) rotate(-90)" font-size="7.3" font-weight="bold" font-style="normal" text-anchor="middle" dominant-baseline="central" stroke="#000" stroke-width="0.22">% MPECs</text>
<line x1="431.9" y1="159.4" x2="431.9" y2="219.7" stroke="#000" stroke-width="1"/>
<line x1="431.5" y1="219.3" x2="517.4" y2="219.3" stroke="#000" stroke-width="1"/>
<line x1="430.4" y1="219.3" x2="431.9" y2="219.3" stroke="#000" stroke-width="0.8"/>
<text x="430.3" y="221.3" font-size="5.7" font-weight="normal" font-style="normal" text-anchor="end" fill="#222" stroke="#222" stroke-width="0.05" >0</text>
<line x1="430.4" y1="207.42" x2="431.9" y2="207.42" stroke="#000" stroke-width="0.8"/>
<text x="430.3" y="209.42" font-size="5.7" font-weight="normal" font-style="normal" text-anchor="end" fill="#222" stroke="#222" stroke-width="0.05" >20</text>
<line x1="430.4" y1="195.54" x2="431.9" y2="195.54" stroke="#000" stroke-width="0.8"/>
<text x="430.3" y="197.54" font-size="5.7" font-weight="normal" font-style="normal" text-anchor="end" fill="#222" stroke="#222" stroke-width="0.05" >40</text>
<line x1="430.4" y1="183.66" x2="431.9" y2="183.66" stroke="#000" stroke-width="0.8"/>
<text x="430.3" y="185.66" font-size="5.7" font-weight="normal" font-style="normal" text-anchor="end" fill="#222" stroke="#222" stroke-width="0.05" >60</text>
<line x1="430.4" y1="171.78" x2="431.9" y2="171.78" stroke="#000" stroke-width="0.8"/>
<text x="430.3" y="173.78" font-size="5.7" font-weight="normal" font-style="normal" text-anchor="end" fill="#222" stroke="#222" stroke-width="0.05" >80</text>
<line x1="430.4" y1="159.9" x2="431.9" y2="159.9" stroke="#000" stroke-width="0.8"/>
<text x="430.3" y="161.9" font-size="5.7" font-weight="normal" font-style="normal" text-anchor="end" fill="#222" stroke="#222" stroke-width="0.05" >100</text>
<rect x="437.5" y="185.5" width="8" height="33.8" fill="#000" stroke="#000" stroke-width="1" />
<line x1="441.45" y1="184.7" x2="441.45" y2="183.9" stroke="#000" stroke-width="0.8"/>
<line x1="439.65" y1="183.9" x2="443.25" y2="183.9" stroke="#000" stroke-width="0.8"/>
<rect x="449.5" y="205.5" width="8" height="13.8" fill="#fff" stroke="#000" stroke-width="1" />
<rect x="461.5" y="173.5" width="7" height="45.8" fill="#888" stroke="#000" stroke-width="1" />
<line x1="464.95" y1="172.5" x2="464.95" y2="172.2" stroke="#000" stroke-width="0.8"/>
<line x1="463.15" y1="172.2" x2="466.75" y2="172.2" stroke="#000" stroke-width="0.8"/>
<rect x="480.5" y="189.5" width="8" height="29.8" fill="#000" stroke="#000" stroke-width="1" />
<line x1="484.65" y1="188.7" x2="484.65" y2="186.9" stroke="#000" stroke-width="0.8"/>
<line x1="482.85" y1="186.9" x2="486.45" y2="186.9" stroke="#000" stroke-width="0.8"/>
<rect x="492.5" y="213.5" width="7" height="5.8" fill="#fff" stroke="#000" stroke-width="1" />
<line x1="495.55" y1="213.2" x2="495.55" y2="212.9" stroke="#000" stroke-width="0.8"/>
<line x1="493.75" y1="212.9" x2="497.35" y2="212.9" stroke="#000" stroke-width="0.8"/>
<rect x="503.5" y="171.5" width="8" height="47.8" fill="#888" stroke="#000" stroke-width="1" />
<line x1="507.5" y1="171.3" x2="507.5" y2="168.7" stroke="#000" stroke-width="0.8"/>
<line x1="505.7" y1="168.7" x2="509.3" y2="168.7" stroke="#000" stroke-width="0.8"/>
<circle cx="448.4" cy="163.5" r="1.1" fill="#000"/>
<circle cx="452" cy="163.5" r="1.1" fill="#000"/>
<circle cx="456" cy="163.5" r="1.1" fill="#000"/>
<path d="M441.5,170.4 V169.1 Q441.5,168.6 442.1,168.6 H464.2 Q464.8,168.6 464.8,169.1 V170.4" fill="none" stroke="#222" stroke-width="0.8"/>
<circle cx="443.7" cy="177.8" r="1.1" fill="#000"/>
<circle cx="447.5" cy="177.8" r="1.1" fill="#000"/>
<circle cx="451.3" cy="177.8" r="1.1" fill="#000"/>
<path d="M441.5,183.1 V181.8 Q441.5,181.3 442.1,181.3 H453 Q453.6,181.3 453.6,181.8 V183.1" fill="none" stroke="#222" stroke-width="0.8"/>
<circle cx="489.1" cy="162.2" r="1.1" fill="#000"/>
<circle cx="493" cy="162.2" r="1.1" fill="#000"/>
<circle cx="496.7" cy="162.2" r="1.1" fill="#000"/>
<path d="M482.7,167.3 V166 Q482.7,165.5 483.3,165.5 H506.9 Q507.5,165.5 507.5,166 V167.3" fill="none" stroke="#222" stroke-width="0.8"/>
<circle cx="486.4" cy="179.7" r="1.1" fill="#000"/>
<circle cx="490.4" cy="179.7" r="1.1" fill="#000"/>
<circle cx="494.1" cy="179.7" r="1.1" fill="#000"/>
<path d="M482.7,185 V183.7 Q482.7,183.2 483.3,183.2 H494.8 Q495.4,183.2 495.4,183.7 V185" fill="none" stroke="#222" stroke-width="0.8"/>
<text x="452.1" y="230.3" font-size="6" font-weight="bold" font-style="normal" text-anchor="middle" fill="#000" stroke="#000" stroke-width="0.2" >Day 7</text>
<text x="494" y="230.3" font-size="6" font-weight="bold" font-style="normal" text-anchor="middle" fill="#000" stroke="#000" stroke-width="0.2" >Day 15</text>
<text x="0" y="0" transform="translate(412.4,191.9) rotate(-90)" font-size="6.8" font-weight="bold" font-style="normal" text-anchor="middle" dominant-baseline="central" stroke="#000" stroke-width="0.22">% SLECs</text>
<text x="0.1" y="124.4" font-size="10.6" font-weight="bold" font-style="normal" text-anchor="start" fill="#000" stroke="#000" stroke-width="0.22" >D</text>
<text x="45.7" y="131.1" font-size="7.4" font-weight="bold" font-style="normal" text-anchor="middle" fill="#000" stroke="#000" stroke-width="0.22" >SPL</text>
<text x="87.6" y="130.8" font-size="7.4" font-weight="bold" font-style="normal" text-anchor="middle" fill="#000" stroke="#000" stroke-width="0.22" >PBL</text>
<text x="3.1" y="148.4" font-size="7.6" font-weight="bold" font-style="normal" text-anchor="start" fill="#000" stroke="#000" stroke-width="0.22" >WT</text>
<text x="2.9" y="184.8" font-size="7.4" font-weight="bold" font-style="normal" text-anchor="start" fill="#000" stroke="#000" stroke-width="0.22" >CKO</text>
<text x="2.9" y="215.4" font-size="7.4" font-weight="bold" font-style="normal" text-anchor="start" fill="#000" stroke="#000" stroke-width="0.22" >CTg</text>
<polygon points="27.8,161.3 27.8,161.3 28.04,161.3 28.27,161.3 28.51,161.3 28.75,161.3 28.99,161.3 29.22,161.3 29.46,161.19 29.7,161.19 29.93,161.18 30.17,161.18 30.41,161.18 30.65,161.17 30.88,161.17 31.12,161.16 31.36,161.15 31.59,161.15 31.83,161.14 32.07,161.13 32.31,161.13 32.54,161.12 32.78,161.11 33.02,161.1 33.25,161.09 33.49,161.08 33.73,161.07 33.97,161.05 34.2,161.04 34.44,161.02 34.68,161 34.91,160.97 35.15,160.94 35.39,160.9 35.63,160.85 35.86,160.79 36.1,160.71 36.34,160.61 36.57,160.48 36.81,160.31 37.05,160.09 37.29,159.82 37.52,159.49 37.76,159.07 38,158.57 38.23,157.96 38.47,157.23 38.71,156.38 38.95,155.39 39.18,154.27 39.42,153.01 39.66,151.61 39.89,150.1 40.13,148.49 40.37,146.8 40.61,145.07 40.84,143.33 41.08,141.64 41.32,140.04 41.55,138.59 41.79,137.34 42.03,136.35 42.27,135.67 42.5,135.33 42.74,135.36 42.98,135.76 43.21,136.5 43.45,137.55 43.69,138.84 43.93,140.32 44.16,141.94 44.4,143.65 44.64,145.38 44.87,147.11 45.11,148.78 45.35,150.38 45.59,151.87 45.82,153.24 46.06,154.48 46.3,155.58 46.53,156.54 46.77,157.37 47.01,158.07 47.25,158.67 47.48,159.15 47.72,159.55 47.96,159.88 48.19,160.14 48.43,160.34 48.67,160.5 48.91,160.63 49.14,160.73 49.38,160.8 49.62,160.86 49.85,160.91 50.09,160.95 50.33,160.98 50.57,161 50.8,161.02 51.04,161.04 51.28,161.06 51.51,161.07 51.75,161.08 51.99,161.09 52.23,161.1 52.46,161.11 52.7,161.12 52.94,161.13 53.17,161.14 53.41,161.14 53.65,161.15 53.89,161.16 54.12,161.16 54.36,161.17 54.6,161.17 54.83,161.18 55.07,161.18 55.31,161.19 55.55,161.19 55.78,161.19 56.02,161.3 56.26,161.3 56.49,161.3 56.73,161.3 56.97,161.3 57.21,161.3 57.44,161.3 57.68,161.3 57.92,161.3 58.15,161.3 58.39,161.3 58.63,161.3 58.87,161.3 59.1,161.3 59.34,161.3 59.58,161.3 59.81,161.3 60.05,161.3 60.29,161.3 60.53,161.3 60.76,161.3 61,161.3 61,161.3" fill="#000" stroke="none" stroke-width="0.5"/>
<rect x="27.3" y="133.3" width="34.2" height="28" fill="none" stroke="#777" stroke-width="0.8" />
<line x1="26.9" y1="161.3" x2="61.5" y2="161.3" stroke="#333" stroke-width="1"/>
<text x="60.5" y="140.2" font-size="6.3" font-weight="normal" font-style="normal" text-anchor="end" fill="#111" stroke="#111" stroke-width="0.06" >1074</text>
<line x1="21" y1="139.6" x2="24.7" y2="139.6" stroke="#999" stroke-width="0.7"/>
<line x1="21" y1="146.8" x2="24.7" y2="146.8" stroke="#999" stroke-width="0.7"/>
<line x1="21" y1="154" x2="24.7" y2="154" stroke="#999" stroke-width="0.7"/>
<line x1="26.1" y1="136.3" x2="27.1" y2="136.3" stroke="#999" stroke-width="0.5"/>
<line x1="31.3" y1="163.1" x2="33.3" y2="163.1" stroke="#aaa" stroke-width="0.5"/>
<line x1="39.3" y1="163.1" x2="41.3" y2="163.1" stroke="#aaa" stroke-width="0.5"/>
<line x1="47.3" y1="163.1" x2="49.3" y2="163.1" stroke="#aaa" stroke-width="0.5"/>
<line x1="55.3" y1="163.1" x2="57.3" y2="163.1" stroke="#aaa" stroke-width="0.5"/>
<polygon points="70.7,161.3 70.7,161.3 70.94,161.3 71.18,161.3 71.42,161.3 71.66,161.3 71.9,161.3 72.14,161.3 72.38,161.3 72.62,161.3 72.86,161.3 73.1,161.3 73.34,161.3 73.58,161.3 73.82,161.3 74.06,161.3 74.3,161.3 74.54,161.3 74.78,161.3 75.02,161.3 75.26,161.3 75.5,161.3 75.74,161.3 75.98,161.19 76.22,161.19 76.46,161.18 76.7,161.18 76.94,161.17 77.18,161.16 77.42,161.15 77.66,161.14 77.9,161.14 78.14,161.12 78.38,161.11 78.62,161.1 78.86,161.08 79.1,161.07 79.34,161.05 79.58,161.02 79.82,160.99 80.06,160.95 80.3,160.89 80.54,160.81 80.78,160.7 81.02,160.55 81.26,160.32 81.5,160.01 81.74,159.57 81.98,158.99 82.22,158.22 82.46,157.22 82.7,155.97 82.94,154.45 83.18,152.66 83.42,150.62 83.66,148.36 83.9,145.96 84.14,143.52 84.38,141.16 84.62,139.03 84.86,137.28 85.1,136.07 85.34,135.52 85.58,135.71 85.82,136.6 86.06,138.1 86.3,140.06 86.54,142.32 86.78,144.74 87.02,147.17 87.26,149.51 87.5,151.67 87.74,153.59 87.98,155.25 88.22,156.63 88.46,157.75 88.7,158.63 88.94,159.3 89.18,159.81 89.42,160.18 89.66,160.44 89.9,160.63 90.14,160.76 90.38,160.86 90.62,160.92 90.86,160.97 91.1,161.01 91.34,161.04 91.58,161.06 91.82,161.08 92.06,161.09 92.3,161.11 92.54,161.12 92.78,161.13 93.02,161.14 93.26,161.15 93.5,161.16 93.74,161.17 93.98,161.17 94.22,161.18 94.46,161.19 94.7,161.19 94.94,161.2 95.18,161.3 95.42,161.3 95.66,161.3 95.9,161.3 96.14,161.3 96.38,161.3 96.62,161.3 96.86,161.3 97.1,161.3 97.34,161.3 97.58,161.3 97.82,161.3 98.06,161.3 98.3,161.3 98.54,161.3 98.78,161.3 99.02,161.3 99.26,161.3 99.5,161.3 99.74,161.3 99.98,161.3 100.22,161.3 100.46,161.3 100.7,161.3 100.94,161.3 101.18,161.3 101.42,161.3 101.66,161.3 101.9,161.3 102.14,161.3 102.38,161.3 102.62,161.3 102.86,161.3 103.1,161.3 103.34,161.3 103.58,161.3 103.82,161.3 104.06,161.3 104.3,161.3 104.3,161.3" fill="#000" stroke="none" stroke-width="0.5"/>
<rect x="70.2" y="133.3" width="34.6" height="28" fill="none" stroke="#777" stroke-width="0.8" />
<line x1="69.8" y1="161.3" x2="104.8" y2="161.3" stroke="#333" stroke-width="1"/>
<text x="103.8" y="140.2" font-size="6.3" font-weight="normal" font-style="normal" text-anchor="end" fill="#111" stroke="#111" stroke-width="0.06" >1097</text>
<line x1="63.9" y1="139.6" x2="67.6" y2="139.6" stroke="#999" stroke-width="0.7"/>
<line x1="63.9" y1="146.8" x2="67.6" y2="146.8" stroke="#999" stroke-width="0.7"/>
<line x1="63.9" y1="154" x2="67.6" y2="154" stroke="#999" stroke-width="0.7"/>
<line x1="69" y1="136.3" x2="70" y2="136.3" stroke="#999" stroke-width="0.5"/>
<line x1="74.2" y1="163.1" x2="76.2" y2="163.1" stroke="#aaa" stroke-width="0.5"/>
<line x1="82.2" y1="163.1" x2="84.2" y2="163.1" stroke="#aaa" stroke-width="0.5"/>
<line x1="90.2" y1="163.1" x2="92.2" y2="163.1" stroke="#aaa" stroke-width="0.5"/>
<line x1="98.2" y1="163.1" x2="100.2" y2="163.1" stroke="#aaa" stroke-width="0.5"/>
<polygon points="27.8,194.4 27.8,194.4 28.04,194.4 28.27,194.4 28.51,194.4 28.75,194.4 28.99,194.4 29.22,194.4 29.46,194.4 29.7,194.4 29.93,194.4 30.17,194.4 30.41,194.4 30.65,194.3 30.88,194.29 31.12,194.29 31.36,194.28 31.59,194.28 31.83,194.27 32.07,194.27 32.31,194.26 32.54,194.26 32.78,194.25 33.02,194.24 33.25,194.24 33.49,194.23 33.73,194.22 33.97,194.21 34.2,194.2 34.44,194.19 34.68,194.17 34.91,194.16 35.15,194.14 35.39,194.12 35.63,194.1 35.86,194.06 36.1,194.03 36.34,193.98 36.57,193.91 36.81,193.83 37.05,193.71 37.29,193.57 37.52,193.37 37.76,193.12 38,192.8 38.23,192.39 38.47,191.88 38.71,191.24 38.95,190.48 39.18,189.56 39.42,188.48 39.66,187.23 39.89,185.82 40.13,184.26 40.37,182.57 40.61,180.77 40.84,178.9 41.08,177.02 41.32,175.18 41.55,173.45 41.79,171.89 42.03,170.6 42.27,169.63 42.5,169.05 42.74,168.91 42.98,169.2 43.21,169.92 43.45,171 43.69,172.39 43.93,174.01 44.16,175.79 44.4,177.65 44.64,179.53 44.87,181.38 45.11,183.15 45.35,184.81 45.59,186.32 45.82,187.67 46.06,188.86 46.3,189.88 46.53,190.75 46.77,191.47 47.01,192.06 47.25,192.54 47.48,192.92 47.72,193.21 47.96,193.44 48.19,193.62 48.43,193.75 48.67,193.86 48.91,193.93 49.14,193.99 49.38,194.04 49.62,194.08 49.85,194.1 50.09,194.13 50.33,194.15 50.57,194.16 50.8,194.18 51.04,194.19 51.28,194.2 51.51,194.21 51.75,194.22 51.99,194.23 52.23,194.24 52.46,194.25 52.7,194.25 52.94,194.26 53.17,194.27 53.41,194.27 53.65,194.28 53.89,194.28 54.12,194.29 54.36,194.29 54.6,194.29 54.83,194.4 55.07,194.4 55.31,194.4 55.55,194.4 55.78,194.4 56.02,194.4 56.26,194.4 56.49,194.4 56.73,194.4 56.97,194.4 57.21,194.4 57.44,194.4 57.68,194.4 57.92,194.4 58.15,194.4 58.39,194.4 58.63,194.4 58.87,194.4 59.1,194.4 59.34,194.4 59.58,194.4 59.81,194.4 60.05,194.4 60.29,194.4 60.53,194.4 60.76,194.4 61,194.4 61,194.4" fill="#000" stroke="none" stroke-width="0.5"/>
<rect x="27.3" y="166.4" width="34.2" height="28" fill="none" stroke="#777" stroke-width="0.8" />
<line x1="26.9" y1="194.4" x2="61.5" y2="194.4" stroke="#333" stroke-width="1"/>
<text x="60.5" y="173.3" font-size="6.3" font-weight="normal" font-style="normal" text-anchor="end" fill="#111" stroke="#111" stroke-width="0.06" >1380</text>
<line x1="21" y1="172.7" x2="24.7" y2="172.7" stroke="#999" stroke-width="0.7"/>
<line x1="21" y1="179.9" x2="24.7" y2="179.9" stroke="#999" stroke-width="0.7"/>
<line x1="21" y1="187.1" x2="24.7" y2="187.1" stroke="#999" stroke-width="0.7"/>
<line x1="26.1" y1="169.4" x2="27.1" y2="169.4" stroke="#999" stroke-width="0.5"/>
<line x1="31.3" y1="196.2" x2="33.3" y2="196.2" stroke="#aaa" stroke-width="0.5"/>
<line x1="39.3" y1="196.2" x2="41.3" y2="196.2" stroke="#aaa" stroke-width="0.5"/>
<line x1="47.3" y1="196.2" x2="49.3" y2="196.2" stroke="#aaa" stroke-width="0.5"/>
<line x1="55.3" y1="196.2" x2="57.3" y2="196.2" stroke="#aaa" stroke-width="0.5"/>
<polygon points="70.7,194.4 70.7,194.4 70.94,194.4 71.18,194.4 71.42,194.4 71.66,194.4 71.9,194.4 72.14,194.4 72.38,194.4 72.62,194.4 72.86,194.4 73.1,194.4 73.34,194.4 73.58,194.4 73.82,194.4 74.06,194.4 74.3,194.4 74.54,194.4 74.78,194.4 75.02,194.4 75.26,194.4 75.5,194.4 75.74,194.4 75.98,194.4 76.22,194.29 76.46,194.29 76.7,194.28 76.94,194.28 77.18,194.27 77.42,194.26 77.66,194.25 77.9,194.25 78.14,194.24 78.38,194.22 78.62,194.21 78.86,194.2 79.1,194.18 79.34,194.17 79.58,194.15 79.82,194.12 80.06,194.09 80.3,194.05 80.54,193.99 80.78,193.9 81.02,193.79 81.26,193.62 81.5,193.39 81.74,193.06 81.98,192.61 82.22,192 82.46,191.2 82.7,190.18 82.94,188.9 83.18,187.36 83.42,185.54 83.66,183.48 83.9,181.22 84.14,178.84 84.38,176.43 84.62,174.13 84.86,172.07 85.1,170.42 85.34,169.32 85.58,168.9 85.82,169.2 86.06,170.19 86.3,171.76 86.54,173.76 86.78,176.04 87.02,178.44 87.26,180.83 87.5,183.12 87.74,185.22 87.98,187.07 88.22,188.66 88.46,189.98 88.7,191.05 88.94,191.88 89.18,192.52 89.42,192.99 89.66,193.34 89.9,193.59 90.14,193.76 90.38,193.89 90.62,193.97 90.86,194.04 91.1,194.08 91.34,194.12 91.58,194.14 91.82,194.16 92.06,194.18 92.3,194.2 92.54,194.21 92.78,194.22 93.02,194.23 93.26,194.24 93.5,194.25 93.74,194.26 93.98,194.27 94.22,194.28 94.46,194.28 94.7,194.29 94.94,194.29 95.18,194.4 95.42,194.4 95.66,194.4 95.9,194.4 96.14,194.4 96.38,194.4 96.62,194.4 96.86,194.4 97.1,194.4 97.34,194.4 97.58,194.4 97.82,194.4 98.06,194.4 98.3,194.4 98.54,194.4 98.78,194.4 99.02,194.4 99.26,194.4 99.5,194.4 99.74,194.4 99.98,194.4 100.22,194.4 100.46,194.4 100.7,194.4 100.94,194.4 101.18,194.4 101.42,194.4 101.66,194.4 101.9,194.4 102.14,194.4 102.38,194.4 102.62,194.4 102.86,194.4 103.1,194.4 103.34,194.4 103.58,194.4 103.82,194.4 104.06,194.4 104.3,194.4 104.3,194.4" fill="#000" stroke="none" stroke-width="0.5"/>
<rect x="70.2" y="166.4" width="34.6" height="28" fill="none" stroke="#777" stroke-width="0.8" />
<line x1="69.8" y1="194.4" x2="104.8" y2="194.4" stroke="#333" stroke-width="1"/>
<text x="103.8" y="173.3" font-size="6.3" font-weight="normal" font-style="normal" text-anchor="end" fill="#111" stroke="#111" stroke-width="0.06" >1293</text>
<line x1="63.9" y1="172.7" x2="67.6" y2="172.7" stroke="#999" stroke-width="0.7"/>
<line x1="63.9" y1="179.9" x2="67.6" y2="179.9" stroke="#999" stroke-width="0.7"/>
<line x1="63.9" y1="187.1" x2="67.6" y2="187.1" stroke="#999" stroke-width="0.7"/>
<line x1="69" y1="169.4" x2="70" y2="169.4" stroke="#999" stroke-width="0.5"/>
<line x1="74.2" y1="196.2" x2="76.2" y2="196.2" stroke="#aaa" stroke-width="0.5"/>
<line x1="82.2" y1="196.2" x2="84.2" y2="196.2" stroke="#aaa" stroke-width="0.5"/>
<line x1="90.2" y1="196.2" x2="92.2" y2="196.2" stroke="#aaa" stroke-width="0.5"/>
<line x1="98.2" y1="196.2" x2="100.2" y2="196.2" stroke="#aaa" stroke-width="0.5"/>
<polygon points="27.8,228.2 27.8,228.07 28.04,228.06 28.27,228.06 28.51,228.05 28.75,228.04 28.99,228.04 29.22,228.03 29.46,228.03 29.7,228.02 29.93,228.01 30.17,228 30.41,227.99 30.65,227.98 30.88,227.97 31.12,227.96 31.36,227.95 31.59,227.93 31.83,227.92 32.07,227.9 32.31,227.87 32.54,227.84 32.78,227.81 33.02,227.77 33.25,227.71 33.49,227.65 33.73,227.57 33.97,227.47 34.2,227.35 34.44,227.19 34.68,227 34.91,226.77 35.15,226.49 35.39,226.15 35.63,225.75 35.86,225.27 36.1,224.71 36.34,224.06 36.57,223.32 36.81,222.47 37.05,221.53 37.29,220.47 37.52,219.32 37.76,218.08 38,216.75 38.23,215.35 38.47,213.9 38.71,212.42 38.95,210.94 39.18,209.48 39.42,208.08 39.66,206.77 39.89,205.59 40.13,204.57 40.37,203.76 40.61,203.18 40.84,202.86 41.08,202.82 41.32,203.05 41.55,203.54 41.79,204.28 42.03,205.23 42.27,206.37 42.5,207.64 42.74,209.01 42.98,210.46 43.21,211.94 43.45,213.42 43.69,214.88 43.93,216.3 44.16,217.65 44.4,218.93 44.64,220.11 44.87,221.19 45.11,222.18 45.35,223.05 45.59,223.83 45.82,224.51 46.06,225.1 46.3,225.6 46.53,226.03 46.77,226.39 47.01,226.69 47.25,226.93 47.48,227.13 47.72,227.3 47.96,227.43 48.19,227.54 48.43,227.63 48.67,227.7 48.91,227.75 49.14,227.8 49.38,227.83 49.62,227.86 49.85,227.89 50.09,227.91 50.33,227.93 50.57,227.94 50.8,227.96 51.04,227.97 51.28,227.98 51.51,227.99 51.75,228 51.99,228.01 52.23,228.02 52.46,228.02 52.7,228.03 52.94,228.04 53.17,228.04 53.41,228.05 53.65,228.05 53.89,228.06 54.12,228.06 54.36,228.07 54.6,228.07 54.83,228.08 55.07,228.08 55.31,228.08 55.55,228.09 55.78,228.09 56.02,228.09 56.26,228.1 56.49,228.2 56.73,228.2 56.97,228.2 57.21,228.2 57.44,228.2 57.68,228.2 57.92,228.2 58.15,228.2 58.39,228.2 58.63,228.2 58.87,228.2 59.1,228.2 59.34,228.2 59.58,228.2 59.81,228.2 60.05,228.2 60.29,228.2 60.53,228.2 60.76,228.2 61,228.2 61,228.2" fill="#000" stroke="none" stroke-width="0.5"/>
<rect x="27.3" y="200.2" width="34.2" height="28" fill="none" stroke="#777" stroke-width="0.8" />
<line x1="26.9" y1="228.2" x2="61.5" y2="228.2" stroke="#333" stroke-width="1"/>
<text x="60.5" y="207.1" font-size="6.3" font-weight="normal" font-style="normal" text-anchor="end" fill="#111" stroke="#111" stroke-width="0.06" >925</text>
<line x1="21" y1="206.5" x2="24.7" y2="206.5" stroke="#999" stroke-width="0.7"/>
<line x1="21" y1="213.7" x2="24.7" y2="213.7" stroke="#999" stroke-width="0.7"/>
<line x1="21" y1="220.9" x2="24.7" y2="220.9" stroke="#999" stroke-width="0.7"/>
<line x1="26.1" y1="203.2" x2="27.1" y2="203.2" stroke="#999" stroke-width="0.5"/>
<line x1="31.3" y1="230" x2="33.3" y2="230" stroke="#aaa" stroke-width="0.5"/>
<line x1="39.3" y1="230" x2="41.3" y2="230" stroke="#aaa" stroke-width="0.5"/>
<line x1="47.3" y1="230" x2="49.3" y2="230" stroke="#aaa" stroke-width="0.5"/>
<line x1="55.3" y1="230" x2="57.3" y2="230" stroke="#aaa" stroke-width="0.5"/>
<polygon points="70.7,228.2 70.7,228.2 70.94,228.2 71.18,228.2 71.42,228.2 71.66,228.2 71.9,228.2 72.14,228.2 72.38,228.2 72.62,228.2 72.86,228.2 73.1,228.2 73.34,228.2 73.58,228.2 73.82,228.2 74.06,228.2 74.3,228.2 74.54,228.2 74.78,228.2 75.02,228.2 75.26,228.2 75.5,228.1 75.74,228.09 75.98,228.09 76.22,228.08 76.46,228.07 76.7,228.07 76.94,228.06 77.18,228.05 77.42,228.04 77.66,228.03 77.9,228.01 78.14,228 78.38,227.98 78.62,227.96 78.86,227.94 79.1,227.91 79.34,227.87 79.58,227.82 79.82,227.74 80.06,227.63 80.3,227.47 80.54,227.23 80.78,226.89 81.02,226.42 81.26,225.77 81.5,224.89 81.74,223.75 81.98,222.32 82.22,220.58 82.46,218.54 82.7,216.23 82.94,213.74 83.18,211.17 83.42,208.66 83.66,206.38 83.9,204.53 84.14,203.28 84.38,202.8 84.62,203.15 84.86,204.27 85.1,206.04 85.34,208.26 85.58,210.74 85.82,213.31 86.06,215.83 86.3,218.17 86.54,220.26 86.78,222.05 87.02,223.53 87.26,224.72 87.5,225.64 87.74,226.32 87.98,226.83 88.22,227.18 88.46,227.43 88.7,227.61 88.94,227.72 89.18,227.8 89.42,227.86 89.66,227.9 89.9,227.93 90.14,227.96 90.38,227.98 90.62,228 90.86,228.01 91.1,228.02 91.34,228.04 91.58,228.05 91.82,228.06 92.06,228.06 92.3,228.07 92.54,228.08 92.78,228.09 93.02,228.09 93.26,228.1 93.5,228.2 93.74,228.2 93.98,228.2 94.22,228.2 94.46,228.2 94.7,228.2 94.94,228.2 95.18,228.2 95.42,228.2 95.66,228.2 95.9,228.2 96.14,228.2 96.38,228.2 96.62,228.2 96.86,228.2 97.1,228.2 97.34,228.2 97.58,228.2 97.82,228.2 98.06,228.2 98.3,228.2 98.54,228.2 98.78,228.2 99.02,228.2 99.26,228.2 99.5,228.2 99.74,228.2 99.98,228.2 100.22,228.2 100.46,228.2 100.7,228.2 100.94,228.2 101.18,228.2 101.42,228.2 101.66,228.2 101.9,228.2 102.14,228.2 102.38,228.2 102.62,228.2 102.86,228.2 103.1,228.2 103.34,228.2 103.58,228.2 103.82,228.2 104.06,228.2 104.3,228.2 104.3,228.2" fill="#000" stroke="none" stroke-width="0.5"/>
<rect x="70.2" y="200.2" width="34.6" height="28" fill="none" stroke="#777" stroke-width="0.8" />
<line x1="69.8" y1="228.2" x2="104.8" y2="228.2" stroke="#333" stroke-width="1"/>
<text x="103.8" y="207.1" font-size="6.3" font-weight="normal" font-style="normal" text-anchor="end" fill="#111" stroke="#111" stroke-width="0.06" >822</text>
<line x1="63.9" y1="206.5" x2="67.6" y2="206.5" stroke="#999" stroke-width="0.7"/>
<line x1="63.9" y1="213.7" x2="67.6" y2="213.7" stroke="#999" stroke-width="0.7"/>
<line x1="63.9" y1="220.9" x2="67.6" y2="220.9" stroke="#999" stroke-width="0.7"/>
<line x1="69" y1="203.2" x2="70" y2="203.2" stroke="#999" stroke-width="0.5"/>
<line x1="74.2" y1="230" x2="76.2" y2="230" stroke="#aaa" stroke-width="0.5"/>
<line x1="82.2" y1="230" x2="84.2" y2="230" stroke="#aaa" stroke-width="0.5"/>
<line x1="90.2" y1="230" x2="92.2" y2="230" stroke="#aaa" stroke-width="0.5"/>
<line x1="98.2" y1="230" x2="100.2" y2="230" stroke="#aaa" stroke-width="0.5"/>
<line x1="29.8" y1="237.4" x2="57" y2="237.4" stroke="#000" stroke-width="0.8"/>
<line x1="77" y1="237.4" x2="99.3" y2="237.4" stroke="#000" stroke-width="0.8"/>
<text x="67" y="240.2" font-size="6.4" font-weight="bold" font-style="normal" text-anchor="middle" fill="#000" stroke="#000" stroke-width="0.22" >Bcl-2</text>
<text x="168.2" y="124.6" font-size="10.6" font-weight="bold" font-style="normal" text-anchor="start" fill="#000" stroke="#000" stroke-width="0.22" >E</text>
<text x="214.2" y="131.3" font-size="7.2" font-weight="bold" font-style="normal" text-anchor="middle" fill="#000" stroke="#000" stroke-width="0.22" >SPL</text>
<text x="257.8" y="131.3" font-size="7.2" font-weight="bold" font-style="normal" text-anchor="middle" fill="#000" stroke="#000" stroke-width="0.22" >PBL</text>
<text x="171.9" y="150.1" font-size="7.2" font-weight="bold" font-style="normal" text-anchor="start" fill="#000" stroke="#000" stroke-width="0.22" >WT</text>
<text x="171.9" y="184.2" font-size="7.2" font-weight="bold" font-style="normal" text-anchor="start" fill="#000" stroke="#000" stroke-width="0.22" >CKO</text>
<text x="171.9" y="215.5" font-size="7.2" font-weight="bold" font-style="normal" text-anchor="start" fill="#000" stroke="#000" stroke-width="0.22" >CTg</text>
<polygon points="195.7,162.5 195.7,161.06 196.15,158.35 196.6,158.67 197.05,160.6 197.5,159.69 197.95,159.86 198.4,159.09 198.85,157.66 199.3,160.53 199.75,160.6 200.2,153.26 200.65,155.18 201.1,150.45 201.55,156.09 202,150.28 202.45,146.19 202.9,149.42 203.35,141.14 203.8,140.09 204.25,147.22 204.7,146.38 205.15,140.58 205.6,135.91 206.05,140.35 206.5,141.25 206.95,138.64 207.4,141.71 207.85,139.22 208.3,136.5 208.75,136.11 209.2,139.44 209.65,140.29 210.1,141.23 210.55,139.78 211,142.28 211.45,145.73 211.9,138.86 212.35,142.42 212.8,142.75 213.25,148.37 213.7,141.97 214.15,144.5 214.6,152.8 215.05,152.06 215.5,149.64 215.95,151.01 216.4,150.14 216.85,156.59 217.3,155.42 217.75,158.56 218.2,161.25 218.65,162.5 219.1,162.5 219.55,162.5 220,162.5 220.45,162.5 220.9,162.5 221.35,162.5 221.8,162.5 222.25,162.5 222.7,162.5 223.15,162.5 223.6,162.5 224.05,162.5 224.5,162.5 224.95,162.5 225.4,162.5 225.85,162.5 226.3,162.5 226.75,162.5 227.2,162.5 227.65,162.5 228.1,162.5 228.55,162.5 229,162.5 229.45,162.5 229.9,162.5 230.35,162.5 230.8,162.5 231.25,162.5 231.7,162.5 232.15,162.5 232.6,162.5 232.7,162.5" fill="#000" stroke="none" stroke-width="0.5"/>
<rect x="195.2" y="134.2" width="38" height="28.3" fill="none" stroke="#777" stroke-width="0.8" />
<line x1="194.8" y1="162.5" x2="233.2" y2="162.5" stroke="#333" stroke-width="1"/>
<line x1="210.8" y1="137.8" x2="230.1" y2="137.8" stroke="#333" stroke-width="0.7"/>
<line x1="230.1" y1="137.8" x2="230.1" y2="139.1" stroke="#333" stroke-width="0.7"/>
<text x="231.7" y="144.2" font-size="6.7" font-weight="normal" font-style="normal" text-anchor="end" fill="#111" stroke="#111" stroke-width="0.06" >29.5</text>
<line x1="191" y1="137.2" x2="194" y2="137.2" stroke="#999" stroke-width="0.6"/>
<line x1="191" y1="144.2" x2="194" y2="144.2" stroke="#999" stroke-width="0.6"/>
<line x1="191" y1="151.2" x2="194" y2="151.2" stroke="#999" stroke-width="0.6"/>
<line x1="191" y1="158.2" x2="194" y2="158.2" stroke="#999" stroke-width="0.6"/>
<line x1="200.2" y1="164.3" x2="202.2" y2="164.3" stroke="#aaa" stroke-width="0.5"/>
<line x1="210.7" y1="164.3" x2="212.7" y2="164.3" stroke="#aaa" stroke-width="0.5"/>
<line x1="221.2" y1="164.3" x2="223.2" y2="164.3" stroke="#aaa" stroke-width="0.5"/>
<line x1="229.2" y1="164.3" x2="231.2" y2="164.3" stroke="#aaa" stroke-width="0.5"/>
<polygon points="239.8,162.5 239.8,161.47 240.25,161.23 240.7,162.11 241.15,162.01 241.6,160.65 242.05,160.54 242.5,159.89 242.95,160.45 243.4,158.62 243.85,157.89 244.3,157.32 244.75,159.63 245.2,157.11 245.65,156.86 246.1,153.16 246.55,149.94 247,149.74 247.45,152.95 247.9,153.26 248.35,154.14 248.8,155.5 249.25,154.73 249.7,149.72 250.15,150.26 250.6,148.83 251.05,143.02 251.5,144.75 251.95,142.68 252.4,144.01 252.85,144.29 253.3,139.68 253.75,140.17 254.2,138.88 254.65,136.5 255.1,141.85 255.55,148.67 256,143.05 256.45,145.12 256.9,146.86 257.35,146.37 257.8,147.35 258.25,145.95 258.7,148.95 259.15,141.84 259.6,140.86 260.05,147.29 260.5,140.46 260.95,139.64 261.4,143 261.85,143.55 262.3,145.15 262.75,142.22 263.2,147.78 263.65,146.54 264.1,152.99 264.55,149.87 265,151.62 265.45,158.01 265.9,159.88 266.35,161.42 266.8,162.5 267.25,162.5 267.7,162.5 268.15,162.5 268.6,162.5 269.05,162.5 269.5,162.5 269.95,162.5 270.4,162.5 270.85,162.5 271.3,162.5 271.75,162.5 272.2,162.5 272.65,162.5 273.1,162.5 273.55,162.5 274,162.5 274.45,162.5 274.9,162.5 275.35,162.5 275.8,162.5 276.25,162.5 276.7,162.5 276.8,162.5" fill="#000" stroke="none" stroke-width="0.5"/>
<rect x="239.3" y="134.2" width="38" height="28.3" fill="none" stroke="#777" stroke-width="0.8" />
<line x1="238.9" y1="162.5" x2="277.3" y2="162.5" stroke="#333" stroke-width="1"/>
<line x1="255.7" y1="137.8" x2="275.1" y2="137.8" stroke="#333" stroke-width="0.7"/>
<line x1="275.1" y1="137.8" x2="275.1" y2="139.1" stroke="#333" stroke-width="0.7"/>
<text x="276.7" y="144.2" font-size="6.7" font-weight="normal" font-style="normal" text-anchor="end" fill="#111" stroke="#111" stroke-width="0.06" >40.7</text>
<line x1="235.1" y1="137.2" x2="238.1" y2="137.2" stroke="#999" stroke-width="0.6"/>
<line x1="235.1" y1="144.2" x2="238.1" y2="144.2" stroke="#999" stroke-width="0.6"/>
<line x1="235.1" y1="151.2" x2="238.1" y2="151.2" stroke="#999" stroke-width="0.6"/>
<line x1="235.1" y1="158.2" x2="238.1" y2="158.2" stroke="#999" stroke-width="0.6"/>
<line x1="244.3" y1="164.3" x2="246.3" y2="164.3" stroke="#aaa" stroke-width="0.5"/>
<line x1="254.8" y1="164.3" x2="256.8" y2="164.3" stroke="#aaa" stroke-width="0.5"/>
<line x1="265.3" y1="164.3" x2="267.3" y2="164.3" stroke="#aaa" stroke-width="0.5"/>
<line x1="273.3" y1="164.3" x2="275.3" y2="164.3" stroke="#aaa" stroke-width="0.5"/>
<polygon points="195.7,195.3 195.7,191.71 196.15,188.96 196.6,185.08 197.05,188.48 197.5,187.44 197.95,186.05 198.4,189.24 198.85,185.49 199.3,183.74 199.75,181.55 200.2,187.56 200.65,184.93 201.1,186.32 201.55,178.84 202,179.31 202.45,185 202.9,175.55 203.35,175.2 203.8,177.65 204.25,177.5 204.7,181.35 205.15,182.22 205.6,176.92 206.05,180.95 206.5,179.28 206.95,178.37 207.4,179.96 207.85,175.41 208.3,175.4 208.75,171.46 209.2,174.4 209.65,173.12 210.1,174.33 210.55,172.66 211,174.48 211.45,175.28 211.9,167.85 212.35,167.85 212.8,167.85 213.25,167.85 213.7,171.41 214.15,172.81 214.6,172.84 215.05,175.51 215.5,169.47 215.95,173.54 216.4,169.8 216.85,174.66 217.3,169.72 217.75,171.26 218.2,179.8 218.65,179.85 219.1,189.45 219.55,195.3 220,195.3 220.45,195.3 220.9,195.3 221.35,195.3 221.8,195.3 222.25,195.3 222.7,195.3 223.15,195.3 223.6,195.3 224.05,195.3 224.5,195.3 224.95,195.3 225.4,195.3 225.85,195.3 226.3,195.3 226.75,195.3 227.2,195.3 227.65,195.3 228.1,195.3 228.55,195.3 229,195.3 229.45,195.3 229.9,195.3 230.35,195.3 230.8,195.3 231.25,195.3 231.7,195.3 232.15,195.3 232.6,195.3 232.7,195.3" fill="#000" stroke="none" stroke-width="0.5"/>
<rect x="195.2" y="167" width="38" height="28.3" fill="none" stroke="#777" stroke-width="0.8" />
<line x1="194.8" y1="195.3" x2="233.2" y2="195.3" stroke="#333" stroke-width="1"/>
<line x1="212.2" y1="170.6" x2="232" y2="170.6" stroke="#333" stroke-width="0.7"/>
<line x1="232" y1="170.6" x2="232" y2="171.9" stroke="#333" stroke-width="0.7"/>
<text x="233.6" y="177" font-size="6.7" font-weight="normal" font-style="normal" text-anchor="end" fill="#111" stroke="#111" stroke-width="0.06" >39.2</text>
<line x1="191" y1="170" x2="194" y2="170" stroke="#999" stroke-width="0.6"/>
<line x1="191" y1="177" x2="194" y2="177" stroke="#999" stroke-width="0.6"/>
<line x1="191" y1="184" x2="194" y2="184" stroke="#999" stroke-width="0.6"/>
<line x1="191" y1="191" x2="194" y2="191" stroke="#999" stroke-width="0.6"/>
<line x1="200.2" y1="197.1" x2="202.2" y2="197.1" stroke="#aaa" stroke-width="0.5"/>
<line x1="210.7" y1="197.1" x2="212.7" y2="197.1" stroke="#aaa" stroke-width="0.5"/>
<line x1="221.2" y1="197.1" x2="223.2" y2="197.1" stroke="#aaa" stroke-width="0.5"/>
<line x1="229.2" y1="197.1" x2="231.2" y2="197.1" stroke="#aaa" stroke-width="0.5"/>
<polygon points="239.8,195.3 239.8,194.44 240.25,193.34 240.7,192.43 241.15,193.77 241.6,194.19 242.05,192.33 242.5,192.59 242.95,189.33 243.4,189.61 243.85,189.79 244.3,189.73 244.75,188.63 245.2,192.25 245.65,189.59 246.1,191.7 246.55,184.52 247,192.14 247.45,184.53 247.9,191.22 248.35,185.02 248.8,187.96 249.25,186.94 249.7,182.39 250.15,189.86 250.6,189.13 251.05,180.68 251.5,184.21 251.95,187.85 252.4,179 252.85,179.05 253.3,186.65 253.75,183.37 254.2,185.77 254.65,183.76 255.1,180.46 255.55,184.37 256,178.85 256.45,184.55 256.9,182.96 257.35,176.39 257.8,179.89 258.25,179.27 258.7,177.14 259.15,177.6 259.6,177.35 260.05,179.6 260.5,171.86 260.95,168.44 261.4,167.85 261.85,169.08 262.3,170.88 262.75,172.31 263.2,171.45 263.65,173.84 264.1,181.41 264.55,182.59 265,184.4 265.45,186.03 265.9,186.61 266.35,192.2 266.8,194.9 267.25,195.3 267.7,195.3 268.15,195.3 268.6,195.3 269.05,195.3 269.5,195.3 269.95,195.3 270.4,195.3 270.85,195.3 271.3,195.3 271.75,195.3 272.2,195.3 272.65,195.3 273.1,195.3 273.55,195.3 274,195.3 274.45,195.3 274.9,195.3 275.35,195.3 275.8,195.3 276.25,195.3 276.7,195.3 276.8,195.3" fill="#000" stroke="none" stroke-width="0.5"/>
<rect x="239.3" y="167" width="38" height="28.3" fill="none" stroke="#777" stroke-width="0.8" />
<line x1="238.9" y1="195.3" x2="277.3" y2="195.3" stroke="#333" stroke-width="1"/>
<line x1="255.7" y1="170.6" x2="275.5" y2="170.6" stroke="#333" stroke-width="0.7"/>
<line x1="275.5" y1="170.6" x2="275.5" y2="171.9" stroke="#333" stroke-width="0.7"/>
<text x="277.1" y="177" font-size="6.7" font-weight="normal" font-style="normal" text-anchor="end" fill="#111" stroke="#111" stroke-width="0.06" >54.6</text>
<line x1="235.1" y1="170" x2="238.1" y2="170" stroke="#999" stroke-width="0.6"/>
<line x1="235.1" y1="177" x2="238.1" y2="177" stroke="#999" stroke-width="0.6"/>
<line x1="235.1" y1="184" x2="238.1" y2="184" stroke="#999" stroke-width="0.6"/>
<line x1="235.1" y1="191" x2="238.1" y2="191" stroke="#999" stroke-width="0.6"/>
<line x1="244.3" y1="197.1" x2="246.3" y2="197.1" stroke="#aaa" stroke-width="0.5"/>
<line x1="254.8" y1="197.1" x2="256.8" y2="197.1" stroke="#aaa" stroke-width="0.5"/>
<line x1="265.3" y1="197.1" x2="267.3" y2="197.1" stroke="#aaa" stroke-width="0.5"/>
<line x1="273.3" y1="197.1" x2="275.3" y2="197.1" stroke="#aaa" stroke-width="0.5"/>
<polygon points="195.7,229.3 195.7,227.43 196.15,223.44 196.6,222.28 197.05,222.25 197.5,223.16 197.95,216.08 198.4,214.35 198.85,215.56 199.3,214.25 199.75,215.54 200.2,216.48 200.65,211.71 201.1,208.4 201.55,212.03 202,203.87 202.45,208.83 202.9,208.45 203.35,209.88 203.8,201.85 204.25,202.5 204.7,201.85 205.15,204.01 205.6,210.27 206.05,208.18 206.5,207.3 206.95,211.65 207.4,204.27 207.85,210.37 208.3,212.95 208.75,207.2 209.2,214.34 209.65,207.26 210.1,212.31 210.55,211.88 211,214.38 211.45,213.54 211.9,216.88 212.35,218.82 212.8,211.44 213.25,218.02 213.7,213.48 214.15,219.55 214.6,212.96 215.05,214.3 215.5,216.26 215.95,216.83 216.4,219.59 216.85,219.25 217.3,225.96 217.75,223.79 218.2,223.27 218.65,228.01 219.1,229.3 219.55,229.3 220,229.3 220.45,229.3 220.9,229.3 221.35,229.3 221.8,229.3 222.25,229.3 222.7,229.3 223.15,229.3 223.6,229.3 224.05,229.3 224.5,229.3 224.95,229.3 225.4,229.3 225.85,229.3 226.3,229.3 226.75,229.3 227.2,229.3 227.65,229.3 228.1,229.3 228.55,229.3 229,229.3 229.45,229.3 229.9,229.3 230.35,229.3 230.8,229.3 231.25,229.3 231.7,229.3 232.15,229.3 232.6,229.3 232.7,229.3" fill="#000" stroke="none" stroke-width="0.5"/>
<rect x="195.2" y="201" width="38" height="28.3" fill="none" stroke="#777" stroke-width="0.8" />
<line x1="194.8" y1="229.3" x2="233.2" y2="229.3" stroke="#333" stroke-width="1"/>
<line x1="211" y1="204.6" x2="232" y2="204.6" stroke="#333" stroke-width="0.7"/>
<line x1="232" y1="204.6" x2="232" y2="205.9" stroke="#333" stroke-width="0.7"/>
<text x="233.6" y="211" font-size="6.7" font-weight="normal" font-style="normal" text-anchor="end" fill="#111" stroke="#111" stroke-width="0.06" >24</text>
<line x1="191" y1="204" x2="194" y2="204" stroke="#999" stroke-width="0.6"/>
<line x1="191" y1="211" x2="194" y2="211" stroke="#999" stroke-width="0.6"/>
<line x1="191" y1="218" x2="194" y2="218" stroke="#999" stroke-width="0.6"/>
<line x1="191" y1="225" x2="194" y2="225" stroke="#999" stroke-width="0.6"/>
<line x1="200.2" y1="231.1" x2="202.2" y2="231.1" stroke="#aaa" stroke-width="0.5"/>
<line x1="210.7" y1="231.1" x2="212.7" y2="231.1" stroke="#aaa" stroke-width="0.5"/>
<line x1="221.2" y1="231.1" x2="223.2" y2="231.1" stroke="#aaa" stroke-width="0.5"/>
<line x1="229.2" y1="231.1" x2="231.2" y2="231.1" stroke="#aaa" stroke-width="0.5"/>
<polygon points="239.8,229.3 239.8,228.16 240.25,228.77 240.7,228.82 241.15,226.52 241.6,228.16 242.05,228.15 242.5,225.61 242.95,226.3 243.4,222.43 243.85,225.96 244.3,219.67 244.75,224.25 245.2,220.98 245.65,217.2 246.1,218.91 246.55,216 247,217.42 247.45,223.05 247.9,214.5 248.35,216.14 248.8,217.52 249.25,217.39 249.7,209.84 250.15,211.07 250.6,206.29 251.05,206.45 251.5,203.27 251.95,205.62 252.4,205.45 252.85,207.67 253.3,212.44 253.75,207.2 254.2,214.48 254.65,210.87 255.1,210.07 255.55,213.81 256,219.5 256.45,213.85 256.9,216.2 257.35,220.38 257.8,220.91 258.25,215.55 258.7,219.54 259.15,210.29 259.6,213.36 260.05,211.85 260.5,211.47 260.95,207.67 261.4,203.83 261.85,211.2 262.3,212.15 262.75,211.74 263.2,216.03 263.65,215.25 264.1,218.76 264.55,222.82 265,224.25 265.45,227.91 265.9,229.02 266.35,229.3 266.8,229.3 267.25,229.3 267.7,229.3 268.15,229.3 268.6,229.3 269.05,229.3 269.5,229.3 269.95,229.3 270.4,229.3 270.85,229.3 271.3,229.3 271.75,229.3 272.2,229.3 272.65,229.3 273.1,229.3 273.55,229.3 274,229.3 274.45,229.3 274.9,229.3 275.35,229.3 275.8,229.3 276.25,229.3 276.7,229.3 276.8,229.3" fill="#000" stroke="none" stroke-width="0.5"/>
<rect x="239.3" y="201" width="38" height="28.3" fill="none" stroke="#777" stroke-width="0.8" />
<line x1="238.9" y1="229.3" x2="277.3" y2="229.3" stroke="#333" stroke-width="1"/>
<line x1="255.7" y1="204.6" x2="275.5" y2="204.6" stroke="#333" stroke-width="0.7"/>
<line x1="275.5" y1="204.6" x2="275.5" y2="205.9" stroke="#333" stroke-width="0.7"/>
<text x="277.1" y="211" font-size="6.7" font-weight="normal" font-style="normal" text-anchor="end" fill="#111" stroke="#111" stroke-width="0.06" >33.7</text>
<line x1="235.1" y1="204" x2="238.1" y2="204" stroke="#999" stroke-width="0.6"/>
<line x1="235.1" y1="211" x2="238.1" y2="211" stroke="#999" stroke-width="0.6"/>
<line x1="235.1" y1="218" x2="238.1" y2="218" stroke="#999" stroke-width="0.6"/>
<line x1="235.1" y1="225" x2="238.1" y2="225" stroke="#999" stroke-width="0.6"/>
<line x1="244.3" y1="231.1" x2="246.3" y2="231.1" stroke="#aaa" stroke-width="0.5"/>
<line x1="254.8" y1="231.1" x2="256.8" y2="231.1" stroke="#aaa" stroke-width="0.5"/>
<line x1="265.3" y1="231.1" x2="267.3" y2="231.1" stroke="#aaa" stroke-width="0.5"/>
<line x1="273.3" y1="231.1" x2="275.3" y2="231.1" stroke="#aaa" stroke-width="0.5"/>
<line x1="196" y1="239" x2="222" y2="239" stroke="#000" stroke-width="0.8"/>
<line x1="253.2" y1="239" x2="278.8" y2="239" stroke="#000" stroke-width="0.8"/>
<text x="237.6" y="240.7" font-size="6.6" font-weight="bold" font-style="normal" text-anchor="middle" fill="#000" stroke="#000" stroke-width="0.22" >CD62L</text>
<text x="152.5" y="254.6" font-size="10.4" font-weight="bold" font-style="normal" text-anchor="start" fill="#000" stroke="#000" stroke-width="0.22" >F</text>
<text x="0" y="0" transform="translate(157.8,300) rotate(-90)" font-size="7.7" font-weight="bold" font-style="normal" text-anchor="middle" dominant-baseline="central" stroke="#000" stroke-width="0.22">% Localization</text>
<line x1="177.5" y1="259.7" x2="177.5" y2="276.7" stroke="#000" stroke-width="1"/>
<line x1="177.5" y1="282.4" x2="177.5" y2="332.9" stroke="#000" stroke-width="1"/>
<line x1="177.1" y1="332.5" x2="285.8" y2="332.5" stroke="#000" stroke-width="0.9"/>
<line x1="175.9" y1="260.1" x2="177.5" y2="260.1" stroke="#000" stroke-width="0.8"/>
<text x="174.5" y="262.5" font-size="7" font-weight="normal" font-style="normal" text-anchor="end" fill="#222" stroke="#222" stroke-width="0.06" >100</text>
<line x1="175.9" y1="273.2" x2="177.5" y2="273.2" stroke="#000" stroke-width="0.8"/>
<text x="174.5" y="275.6" font-size="7" font-weight="normal" font-style="normal" text-anchor="end" fill="#222" stroke="#222" stroke-width="0.06" >80</text>
<line x1="175.9" y1="283" x2="177.5" y2="283" stroke="#000" stroke-width="0.8"/>
<text x="174.5" y="285.4" font-size="7" font-weight="normal" font-style="normal" text-anchor="end" fill="#222" stroke="#222" stroke-width="0.06" >15</text>
<line x1="175.9" y1="299.5" x2="177.5" y2="299.5" stroke="#000" stroke-width="0.8"/>
<text x="174.5" y="301.9" font-size="7" font-weight="normal" font-style="normal" text-anchor="end" fill="#222" stroke="#222" stroke-width="0.06" >10</text>
<line x1="175.9" y1="316" x2="177.5" y2="316" stroke="#000" stroke-width="0.8"/>
<text x="174.5" y="318.4" font-size="7" font-weight="normal" font-style="normal" text-anchor="end" fill="#222" stroke="#222" stroke-width="0.06" >5</text>
<line x1="175.9" y1="332.5" x2="177.5" y2="332.5" stroke="#000" stroke-width="0.8"/>
<text x="174.5" y="334.9" font-size="7" font-weight="normal" font-style="normal" text-anchor="end" fill="#222" stroke="#222" stroke-width="0.06" >0</text>
<line x1="176.3" y1="276.3" x2="177.9" y2="276.3" stroke="#000" stroke-width="0.8"/>
<rect x="182.5" y="270.5" width="7" height="62" fill="#000" stroke="#000" stroke-width="1" />
<line x1="186.25" y1="270.2" x2="186.25" y2="268.6" stroke="#000" stroke-width="0.7"/>
<line x1="184.65" y1="268.6" x2="187.85" y2="268.6" stroke="#000" stroke-width="0.7"/>
<rect x="193.5" y="265.5" width="6" height="67" fill="#fff" stroke="#000" stroke-width="1" />
<rect x="202.5" y="272.5" width="7" height="60" fill="#888" stroke="#000" stroke-width="1" />
<rect x="180" y="276.8" width="32" height="5.5" fill="#fff" stroke="none" stroke-width="0.8" />
<rect x="219.5" y="302.5" width="6" height="30" fill="#000" stroke="#000" stroke-width="1" />
<line x1="222.3" y1="302" x2="222.3" y2="295.7" stroke="#000" stroke-width="0.7"/>
<line x1="220.7" y1="295.7" x2="223.9" y2="295.7" stroke="#000" stroke-width="0.7"/>
<rect x="228.5" y="322.5" width="7" height="10" fill="#fff" stroke="#000" stroke-width="1" />
<line x1="232" y1="321.6" x2="232" y2="317.4" stroke="#000" stroke-width="0.7"/>
<line x1="230.4" y1="317.4" x2="233.6" y2="317.4" stroke="#000" stroke-width="0.7"/>
<rect x="238.5" y="290.5" width="6" height="42" fill="#888" stroke="#000" stroke-width="1" />
<rect x="255.5" y="315.5" width="6" height="17" fill="#000" stroke="#000" stroke-width="1" />
<line x1="258.1" y1="314.8" x2="258.1" y2="311.5" stroke="#000" stroke-width="0.7"/>
<line x1="256.5" y1="311.5" x2="259.7" y2="311.5" stroke="#000" stroke-width="0.7"/>
<rect x="264.5" y="325.5" width="7" height="7" fill="#fff" stroke="#000" stroke-width="1" />
<rect x="274.5" y="317.5" width="7" height="15" fill="#888" stroke="#000" stroke-width="1" />
<line x1="277.9" y1="316.7" x2="277.9" y2="312.1" stroke="#000" stroke-width="0.7"/>
<line x1="276.3" y1="312.1" x2="279.5" y2="312.1" stroke="#000" stroke-width="0.7"/>
<text x="196.5" y="341.3" font-size="5.6" font-weight="bold" font-style="normal" text-anchor="middle" fill="#000" stroke="#000" stroke-width="0.19" >SPL</text>
<text x="233" y="341.3" font-size="5.6" font-weight="bold" font-style="normal" text-anchor="middle" fill="#000" stroke="#000" stroke-width="0.19" >LNG</text>
<text x="268.8" y="341.3" font-size="5.6" font-weight="bold" font-style="normal" text-anchor="middle" fill="#000" stroke="#000" stroke-width="0.19" >LIV</text>
<line x1="303.3" y1="259.8" x2="303.3" y2="333.8" stroke="#000" stroke-width="0.9"/>
<line x1="302.9" y1="333.4" x2="336.1" y2="333.4" stroke="#000" stroke-width="0.9"/>
<line x1="301.7" y1="333.4" x2="303.3" y2="333.4" stroke="#000" stroke-width="0.8"/>
<text x="300" y="335.9" font-size="7.4" font-weight="normal" font-style="normal" text-anchor="end" fill="#222" stroke="#222" stroke-width="0.06" >0.0</text>
<line x1="301.7" y1="315.1" x2="303.3" y2="315.1" stroke="#000" stroke-width="0.8"/>
<text x="300" y="317.6" font-size="7.4" font-weight="normal" font-style="normal" text-anchor="end" fill="#222" stroke="#222" stroke-width="0.06" >0.5</text>
<line x1="301.7" y1="296.8" x2="303.3" y2="296.8" stroke="#000" stroke-width="0.8"/>
<text x="300" y="299.3" font-size="7.4" font-weight="normal" font-style="normal" text-anchor="end" fill="#222" stroke="#222" stroke-width="0.06" >1.0</text>
<line x1="301.7" y1="278.5" x2="303.3" y2="278.5" stroke="#000" stroke-width="0.8"/>
<text x="300" y="281" font-size="7.4" font-weight="normal" font-style="normal" text-anchor="end" fill="#222" stroke="#222" stroke-width="0.06" >1.5</text>
<line x1="301.7" y1="260.2" x2="303.3" y2="260.2" stroke="#000" stroke-width="0.8"/>
<text x="300" y="262.7" font-size="7.4" font-weight="normal" font-style="normal" text-anchor="end" fill="#222" stroke="#222" stroke-width="0.06" >2.0</text>
<rect x="305.5" y="309.5" width="7" height="23.9" fill="#000" stroke="#000" stroke-width="1" />
<line x1="309.2" y1="309.2" x2="309.2" y2="305.2" stroke="#000" stroke-width="0.7"/>
<line x1="307.6" y1="305.2" x2="310.8" y2="305.2" stroke="#000" stroke-width="0.7"/>
<rect x="316.5" y="280.5" width="7" height="52.9" fill="#fff" stroke="#000" stroke-width="1" />
<line x1="320" y1="280.1" x2="320" y2="272" stroke="#000" stroke-width="0.7"/>
<line x1="318.4" y1="272" x2="321.6" y2="272" stroke="#000" stroke-width="0.7"/>
<rect x="326.5" y="310.5" width="8" height="22.9" fill="#888" stroke="#000" stroke-width="1" />
<line x1="330.35" y1="309.7" x2="330.35" y2="299" stroke="#000" stroke-width="0.7"/>
<line x1="328.75" y1="299" x2="331.95" y2="299" stroke="#000" stroke-width="0.7"/>
<text x="318.3" y="341.2" font-size="5.6" font-weight="bold" font-style="normal" text-anchor="middle" fill="#000" stroke="#000" stroke-width="0.19" >iLN</text>
<rect x="339.5" y="256.4" width="8.9" height="5" fill="#000" stroke="#000" stroke-width="0.9" />
<text x="352.3" y="260.8" font-size="5.6" font-weight="bold" font-style="normal" text-anchor="start" fill="#000" stroke="#000" stroke-width="0.19" >WT</text>
<rect x="339.5" y="264.7" width="8.9" height="4.3" fill="#fff" stroke="#000" stroke-width="0.9" />
<text x="352.3" y="269.1" font-size="5.6" font-weight="bold" font-style="normal" text-anchor="start" fill="#000" stroke="#000" stroke-width="0.19" >CKO</text>
<rect x="339.5" y="273.1" width="8.9" height="4.6" fill="#888" stroke="#000" stroke-width="0.9" />
<text x="352.3" y="277.2" font-size="5.6" font-weight="bold" font-style="normal" text-anchor="start" fill="#000" stroke="#000" stroke-width="0.19" >CTg</text>
</svg>
</body></html>
